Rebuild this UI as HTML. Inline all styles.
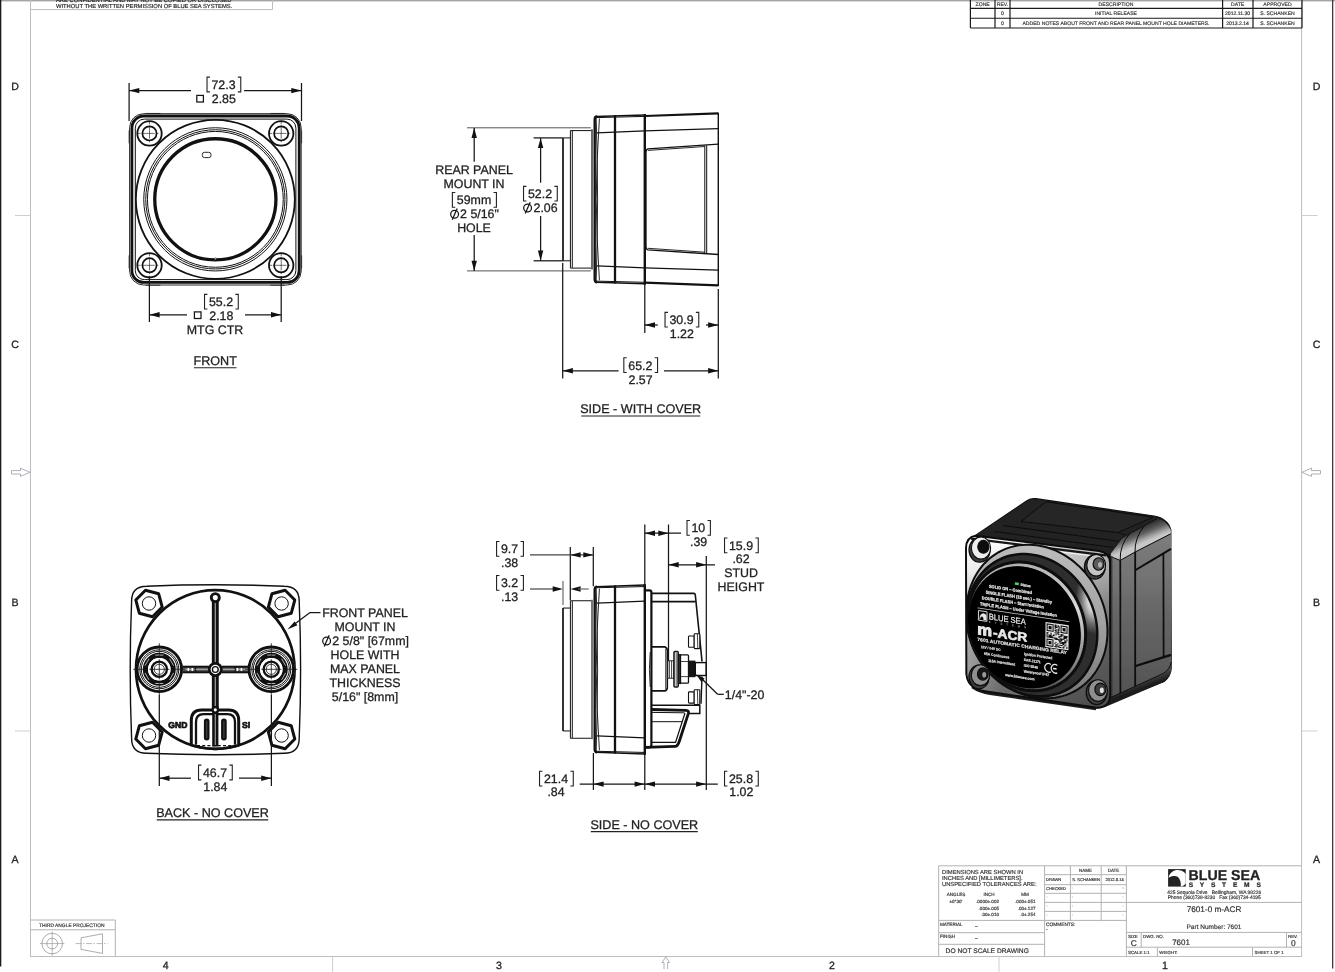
<!DOCTYPE html>
<html><head><meta charset="utf-8"><title>7601 m-ACR drawing</title>
<style>
html,body{margin:0;padding:0;background:#fff;}
body{width:1335px;height:972px;overflow:hidden;font-family:"Liberation Sans",sans-serif;}
svg{display:block;will-change:transform;font-family:"Liberation Sans",sans-serif;}
svg text{font-family:"Liberation Sans",sans-serif;text-rendering:geometricPrecision;}
</style></head><body>
<svg width="1335" height="972" viewBox="0 0 1335 972">
<!-- 10_frame.py -->
<defs><linearGradient id="tsh" x1="0" y1="0" x2="0" y2="1"><stop offset="0" stop-color="#8a8a8a"/><stop offset="1" stop-color="#ffffff"/></linearGradient></defs>
<rect x="0" y="0" width="1335" height="2.2" fill="url(#tsh)"/>
<rect x="0" y="0" width="1.3" height="966.5" rx="0" stroke="none" stroke-width="0" fill="#1a1a1a"/>
<rect x="1332" y="0" width="1.3" height="968.5" rx="0" stroke="none" stroke-width="0" fill="#3a3a3a"/>
<line x1="30.5" y1="0" x2="30.5" y2="956.5" stroke="#bdbdbd" stroke-width="1" />
<line x1="1301.6" y1="0" x2="1301.6" y2="956.5" stroke="#bdbdbd" stroke-width="1" />
<line x1="30" y1="956.5" x2="1302" y2="956.5" stroke="#bdbdbd" stroke-width="1" />
<line x1="15" y1="215.5" x2="30.5" y2="215.5" stroke="#cfcfcf" stroke-width="1" />
<line x1="1301.6" y1="215.5" x2="1317.5" y2="215.5" stroke="#cfcfcf" stroke-width="1" />
<line x1="15" y1="731" x2="30.5" y2="731" stroke="#cfcfcf" stroke-width="1" />
<line x1="1301.6" y1="731" x2="1317.5" y2="731" stroke="#cfcfcf" stroke-width="1" />
<line x1="332.6" y1="956.5" x2="332.6" y2="972" stroke="#cfcfcf" stroke-width="1" />
<line x1="999" y1="956.5" x2="999" y2="972" stroke="#cfcfcf" stroke-width="1" />
<text x="15" y="89.7" font-size="10.6" text-anchor="middle" fill="#222"  stroke="#222" stroke-width="0.28">D</text>
<text x="1316.6" y="89.7" font-size="10.6" text-anchor="middle" fill="#222"  stroke="#222" stroke-width="0.28">D</text>
<text x="15" y="348.2" font-size="10.6" text-anchor="middle" fill="#222"  stroke="#222" stroke-width="0.28">C</text>
<text x="1316.6" y="348.2" font-size="10.6" text-anchor="middle" fill="#222"  stroke="#222" stroke-width="0.28">C</text>
<text x="15" y="605.6" font-size="10.6" text-anchor="middle" fill="#222"  stroke="#222" stroke-width="0.28">B</text>
<text x="1316.6" y="605.6" font-size="10.6" text-anchor="middle" fill="#222"  stroke="#222" stroke-width="0.28">B</text>
<text x="15" y="862.5" font-size="10.6" text-anchor="middle" fill="#222"  stroke="#222" stroke-width="0.28">A</text>
<text x="1316.6" y="862.5" font-size="10.6" text-anchor="middle" fill="#222"  stroke="#222" stroke-width="0.28">A</text>
<text x="165.7" y="968.6" font-size="10.6" text-anchor="middle" fill="#222"  stroke="#222" stroke-width="0.28">4</text>
<text x="499" y="968.6" font-size="10.6" text-anchor="middle" fill="#222"  stroke="#222" stroke-width="0.28">3</text>
<text x="832" y="968.6" font-size="10.6" text-anchor="middle" fill="#222"  stroke="#222" stroke-width="0.28">2</text>
<text x="1165" y="968.6" font-size="10.6" text-anchor="middle" fill="#222"  stroke="#222" stroke-width="0.28">1</text>
<path d="M11.5 470.6H20.5V468.2L30 472.3L20.5 476.4V474H11.5Z" stroke="#9a9aa8" stroke-width="0.8" fill="none" />
<path d="M1320.5 470.6H1311.5V468.2L1302 472.3L1311.5 476.4V474H1320.5Z" stroke="#9a9aa8" stroke-width="0.8" fill="none" />
<path d="M664 969V962.5H662L665.8 956.8L669.6 962.5H667.6V969" stroke="#9a9aa8" stroke-width="0.8" fill="none" />
<line x1="30.5" y1="9.6" x2="272.5" y2="9.6" stroke="#bdbdbd" stroke-width="1" />
<line x1="272.5" y1="0" x2="272.5" y2="9.6" stroke="#bdbdbd" stroke-width="1" />
<text x="56" y="1.6" font-size="5.8" text-anchor="start" fill="#222"  stroke="#222" stroke-width="0.16">ARE CONFIDENTIAL AND MAY NOT BE COPIED OR DISCLOSED</text>
<text x="56" y="7.9" font-size="5.8" text-anchor="start" fill="#222"  stroke="#222" stroke-width="0.16">WITHOUT THE WRITTEN PERMISSION OF BLUE SEA SYSTEMS.</text>
<!-- 15_titleblock.py -->
<line x1="970.4" y1="8.4" x2="1302" y2="8.4" stroke="#1a1a1a" stroke-width="1.1" />
<line x1="970.4" y1="18.3" x2="1302" y2="18.3" stroke="#1a1a1a" stroke-width="1.1" />
<line x1="970.4" y1="28" x2="1302" y2="28" stroke="#1a1a1a" stroke-width="1.1" />
<line x1="970.4" y1="0" x2="970.4" y2="28" stroke="#1a1a1a" stroke-width="1.2" />
<line x1="995" y1="0" x2="995" y2="28" stroke="#1a1a1a" stroke-width="1.2" />
<line x1="1010" y1="0" x2="1010" y2="28" stroke="#1a1a1a" stroke-width="1.2" />
<line x1="1222.6" y1="0" x2="1222.6" y2="28" stroke="#1a1a1a" stroke-width="1.2" />
<line x1="1253" y1="0" x2="1253" y2="28" stroke="#1a1a1a" stroke-width="1.2" />
<line x1="1302" y1="0" x2="1302" y2="28" stroke="#1a1a1a" stroke-width="1.2" />
<text x="982.7" y="5.6" font-size="5.1" text-anchor="middle" fill="#333"  stroke="#333" stroke-width="0.16">ZONE</text>
<text x="1002.5" y="5.6" font-size="5.1" text-anchor="middle" fill="#333"  stroke="#333" stroke-width="0.16">REV.</text>
<text x="1116" y="5.6" font-size="5.1" text-anchor="middle" fill="#333"  stroke="#333" stroke-width="0.16">DESCRIPTION</text>
<text x="1237.6" y="5.6" font-size="5.1" text-anchor="middle" fill="#333"  stroke="#333" stroke-width="0.16">DATE</text>
<text x="1277.5" y="5.6" font-size="5.1" text-anchor="middle" fill="#333"  stroke="#333" stroke-width="0.16">APPROVED</text>
<text x="1002.5" y="15.2" font-size="5.1" text-anchor="middle" fill="#333"  stroke="#333" stroke-width="0.16">0</text>
<text x="1116" y="15.2" font-size="5.1" text-anchor="middle" fill="#333"  stroke="#333" stroke-width="0.16">INITIAL RELEASE</text>
<text x="1237.6" y="15.2" font-size="5.1" text-anchor="middle" fill="#333"  stroke="#333" stroke-width="0.16">2012.11.30</text>
<text x="1277.5" y="15.2" font-size="5.1" text-anchor="middle" fill="#333"  stroke="#333" stroke-width="0.16">S. SCHANKEN</text>
<text x="1002.5" y="25" font-size="5.1" text-anchor="middle" fill="#333"  stroke="#333" stroke-width="0.16">0</text>
<text x="1116" y="25" font-size="5.1" text-anchor="middle" fill="#333"  stroke="#333" stroke-width="0.16">ADDED NOTES ABOUT FRONT AND REAR PANEL MOUNT HOLE DIAMETERS.</text>
<text x="1237.6" y="25" font-size="5.1" text-anchor="middle" fill="#333"  stroke="#333" stroke-width="0.16">2013.2.14</text>
<text x="1277.5" y="25" font-size="5.1" text-anchor="middle" fill="#333"  stroke="#333" stroke-width="0.16">S. SCHANKEN</text>
<line x1="938.7" y1="865.8" x2="1301.6" y2="865.8" stroke="#b2b2b2" stroke-width="1" />
<line x1="938.7" y1="865.8" x2="938.7" y2="956.4" stroke="#b2b2b2" stroke-width="1" />
<line x1="1044.6" y1="865.8" x2="1044.6" y2="956.4" stroke="#b2b2b2" stroke-width="1" />
<line x1="1126.4" y1="865.8" x2="1126.4" y2="956.4" stroke="#b2b2b2" stroke-width="1" />
<line x1="1070.4" y1="865.8" x2="1070.4" y2="920.4" stroke="#b2b2b2" stroke-width="1" />
<line x1="1101.2" y1="865.8" x2="1101.2" y2="920.4" stroke="#b2b2b2" stroke-width="1" />
<line x1="1044.6" y1="874.7" x2="1126.4" y2="874.7" stroke="#b2b2b2" stroke-width="1" />
<line x1="1044.6" y1="884.7" x2="1126.4" y2="884.7" stroke="#b2b2b2" stroke-width="1" />
<line x1="1044.6" y1="893.3" x2="1126.4" y2="893.3" stroke="#b2b2b2" stroke-width="1" />
<line x1="1044.6" y1="902.4" x2="1126.4" y2="902.4" stroke="#b2b2b2" stroke-width="1" />
<line x1="1044.6" y1="911.4" x2="1126.4" y2="911.4" stroke="#b2b2b2" stroke-width="1" />
<line x1="938.7" y1="920.4" x2="1126.4" y2="920.4" stroke="#b2b2b2" stroke-width="1" />
<line x1="938.7" y1="932.7" x2="1044.6" y2="932.7" stroke="#b2b2b2" stroke-width="1" />
<line x1="938.7" y1="944.3" x2="1044.6" y2="944.3" stroke="#b2b2b2" stroke-width="1" />
<line x1="1126.4" y1="902.4" x2="1301.6" y2="902.4" stroke="#b2b2b2" stroke-width="1" />
<line x1="1126.4" y1="932.4" x2="1301.6" y2="932.4" stroke="#b2b2b2" stroke-width="1" />
<line x1="1126.4" y1="947.2" x2="1301.6" y2="947.2" stroke="#b2b2b2" stroke-width="1" />
<line x1="1141.2" y1="932.4" x2="1141.2" y2="947.2" stroke="#b2b2b2" stroke-width="1" />
<line x1="1286.5" y1="932.4" x2="1286.5" y2="947.2" stroke="#b2b2b2" stroke-width="1" />
<line x1="1157.4" y1="947.2" x2="1157.4" y2="956.4" stroke="#b2b2b2" stroke-width="1" />
<line x1="1252.5" y1="947.2" x2="1252.5" y2="956.4" stroke="#b2b2b2" stroke-width="1" />
<text x="942" y="873.6" font-size="5.8" text-anchor="start" fill="#333"  stroke="#333" stroke-width="0.16">DIMENSIONS ARE SHOWN IN</text>
<text x="942" y="879.6" font-size="5.8" text-anchor="start" fill="#333"  stroke="#333" stroke-width="0.16">INCHES AND [MILLIMETERS].</text>
<text x="942" y="885.6" font-size="5.8" text-anchor="start" fill="#333"  stroke="#333" stroke-width="0.16">UNSPECIFIED TOLERANCES ARE:</text>
<text x="956" y="895.6" font-size="4.6" text-anchor="middle" fill="#333"  stroke="#333" stroke-width="0.16">ANGLES</text>
<text x="989" y="895.6" font-size="4.6" text-anchor="middle" fill="#333"  stroke="#333" stroke-width="0.16">INCH</text>
<text x="1025" y="895.6" font-size="4.6" text-anchor="middle" fill="#333"  stroke="#333" stroke-width="0.16">MM</text>
<text x="956" y="902.6" font-size="4.6" text-anchor="middle" fill="#333"  stroke="#333" stroke-width="0.16">±0°30'</text>
<text x="999" y="902.6" font-size="4.6" text-anchor="end" fill="#333"  stroke="#333" stroke-width="0.16">.0000±.002</text>
<text x="999" y="909.6" font-size="4.6" text-anchor="end" fill="#333"  stroke="#333" stroke-width="0.16">.000±.005</text>
<text x="999" y="915.6" font-size="4.6" text-anchor="end" fill="#333"  stroke="#333" stroke-width="0.16">.00±.010</text>
<text x="1035.5" y="902.6" font-size="4.6" text-anchor="end" fill="#333"  stroke="#333" stroke-width="0.16">.000±.051</text>
<text x="1035.5" y="909.6" font-size="4.6" text-anchor="end" fill="#333"  stroke="#333" stroke-width="0.16">.00±.127</text>
<text x="1035.5" y="915.6" font-size="4.6" text-anchor="end" fill="#333"  stroke="#333" stroke-width="0.16">.0±.254</text>
<text x="940" y="926" font-size="4.6" text-anchor="start" fill="#333"  stroke="#333" stroke-width="0.16">MATERIAL</text>
<text x="975" y="926.1" font-size="4.6" text-anchor="start" fill="#333"  stroke="#333" stroke-width="0.16">_</text>
<text x="940" y="938" font-size="4.6" text-anchor="start" fill="#333"  stroke="#333" stroke-width="0.16">FINISH</text>
<text x="975" y="938.1" font-size="4.6" text-anchor="start" fill="#333"  stroke="#333" stroke-width="0.16">_</text>
<text x="945.6" y="952.7" font-size="6.66" text-anchor="start" fill="#333"  stroke="#333" stroke-width="0.2">DO NOT SCALE DRAWING</text>
<text x="1085.5" y="872.2" font-size="4.5" text-anchor="middle" fill="#333"  stroke="#333" stroke-width="0.16">NAME</text>
<text x="1113.5" y="872.2" font-size="4.5" text-anchor="middle" fill="#333"  stroke="#333" stroke-width="0.16">DATE</text>
<text x="1046" y="881.2" font-size="4.1" text-anchor="start" fill="#333"  stroke="#333" stroke-width="0.16">DRAWN</text>
<text x="1046" y="890.2" font-size="4.1" text-anchor="start" fill="#333"  stroke="#333" stroke-width="0.16">CHECKED</text>
<text x="1072.3" y="881.2" font-size="4.1" text-anchor="start" fill="#333"  stroke="#333" stroke-width="0.16">S. SCHANKEN</text>
<text x="1105.5" y="881.2" font-size="4.1" text-anchor="start" fill="#333"  stroke="#333" stroke-width="0.16">2012.8.14</text>
<text x="1072.5" y="888.8" font-size="4.1" text-anchor="middle" fill="#999"  stroke="#999" stroke-width="0.16">-</text>
<text x="1123" y="888.8" font-size="4.1" text-anchor="middle" fill="#999"  stroke="#999" stroke-width="0.16">-</text>
<text x="1072.5" y="897.8" font-size="4.1" text-anchor="middle" fill="#999"  stroke="#999" stroke-width="0.16">-</text>
<text x="1123" y="897.8" font-size="4.1" text-anchor="middle" fill="#999"  stroke="#999" stroke-width="0.16">-</text>
<text x="1072.5" y="906.8" font-size="4.1" text-anchor="middle" fill="#999"  stroke="#999" stroke-width="0.16">-</text>
<text x="1123" y="906.8" font-size="4.1" text-anchor="middle" fill="#999"  stroke="#999" stroke-width="0.16">-</text>
<text x="1072.5" y="915.8" font-size="4.1" text-anchor="middle" fill="#999"  stroke="#999" stroke-width="0.16">-</text>
<text x="1123" y="915.8" font-size="4.1" text-anchor="middle" fill="#999"  stroke="#999" stroke-width="0.16">-</text>
<text x="1047" y="897.8" font-size="4.1" text-anchor="middle" fill="#999"  stroke="#999" stroke-width="0.16">-</text>
<text x="1047" y="906.8" font-size="4.1" text-anchor="middle" fill="#999"  stroke="#999" stroke-width="0.16">-</text>
<text x="1047" y="915.8" font-size="4.1" text-anchor="middle" fill="#999"  stroke="#999" stroke-width="0.16">-</text>
<text x="1123" y="888.8" font-size="4.1" text-anchor="middle" fill="#999"  stroke="#999" stroke-width="0.16">-</text>
<text x="1046" y="926.2" font-size="4.8" text-anchor="start" fill="#333"  stroke="#333" stroke-width="0.16">COMMENTS:</text>
<text x="1046" y="931" font-size="4.8" text-anchor="start" fill="#333"  stroke="#333" stroke-width="0.16">-</text>
<text x="1214" y="912" font-size="8.2" text-anchor="middle" fill="#333"  stroke="#333" stroke-width="0.2">7601-0 m-ACR</text>
<text x="1214" y="929" font-size="6.5" text-anchor="middle" fill="#333"  stroke="#333" stroke-width="0.16">Part Number: 7601</text>
<text x="1128" y="938" font-size="4.4" text-anchor="start" fill="#333"  stroke="#333" stroke-width="0.16">SIZE</text>
<text x="1143" y="938" font-size="4.4" text-anchor="start" fill="#333"  stroke="#333" stroke-width="0.16">DWG. NO.</text>
<text x="1288" y="938" font-size="4.4" text-anchor="start" fill="#333"  stroke="#333" stroke-width="0.16">REV.</text>
<text x="1133.8" y="946" font-size="8.4" text-anchor="middle" fill="#333"  stroke="#333" stroke-width="0.2">C</text>
<text x="1181" y="945" font-size="7.95" text-anchor="middle" fill="#333"  stroke="#333" stroke-width="0.2">7601</text>
<text x="1293.3" y="946" font-size="8.4" text-anchor="middle" fill="#333"  stroke="#333" stroke-width="0.2">0</text>
<text x="1128" y="953.8" font-size="4.4" text-anchor="start" fill="#333"  stroke="#333" stroke-width="0.16">SCALE 1:1</text>
<text x="1159.3" y="953.8" font-size="4.4" text-anchor="start" fill="#333"  stroke="#333" stroke-width="0.16">WEIGHT:</text>
<text x="1254.5" y="953.8" font-size="4.4" text-anchor="start" fill="#333"  stroke="#333" stroke-width="0.16">SHEET 1 OF 1</text>
<g transform="translate(1168.1 869.1)">
<rect x="0" y="0" width="17.6" height="17.5" fill="#222"/>
<path d="M0.4 8.6 C1.6 3.4 5.8 0.9 9.8 1 C13.8 1.1 16.8 3.2 17.6 5.2 L17.6 14.2 C16.6 16 14.8 17.2 12.6 17.5 C13.2 14 12.2 10 9.6 7.6 C7 6.2 3 7 0.4 8.6Z" fill="#fff"/>
</g>
<text x="1188.6" y="879.7" font-size="14.3" text-anchor="start" fill="#222" font-weight="bold" textLength="71.6" lengthAdjust="spacingAndGlyphs" stroke="#222" stroke-width="0.28">BLUE SEA</text>
<text x="1188.8" y="886.6" font-size="6.6" text-anchor="start" fill="#222" font-weight="bold" textLength="72" lengthAdjust="spacing" stroke="#222" stroke-width="0.2">S Y S T E M S</text>
<text x="1167.2" y="894.2" font-size="5" text-anchor="start" fill="#333" textLength="94" lengthAdjust="spacingAndGlyphs" stroke="#333" stroke-width="0.16">425 Sequoia Drive   Bellingham, WA 98226</text>
<text x="1167.8" y="899" font-size="5" text-anchor="start" fill="#333" textLength="93" lengthAdjust="spacingAndGlyphs" stroke="#333" stroke-width="0.16">Phone (360)738-8230   Fax (360)734-4195</text>
<line x1="30.5" y1="920" x2="115.3" y2="920" stroke="#b2b2b2" stroke-width="1" />
<line x1="115.3" y1="920" x2="115.3" y2="956.5" stroke="#b2b2b2" stroke-width="1" />
<line x1="30.5" y1="929.8" x2="115.3" y2="929.8" stroke="#b2b2b2" stroke-width="1" />
<text x="71.8" y="926.9" font-size="4.9" text-anchor="middle" fill="#333"  stroke="#333" stroke-width="0.16">THIRD ANGLE PROJECTION</text>
<circle cx="52.2" cy="943.6" r="10.3" stroke="#8a8a8a" stroke-width="0.7" fill="none"/>
<circle cx="52.2" cy="943.6" r="5.4" stroke="#8a8a8a" stroke-width="0.7" fill="none"/>
<line x1="40" y1="943.6" x2="64.4" y2="943.6" stroke="#8a8a8a" stroke-width="0.6" />
<line x1="52.2" y1="931.5" x2="52.2" y2="955.7" stroke="#8a8a8a" stroke-width="0.6" />
<polygon points="81,937.8 102.5,933.8 102.5,953.4 81,949.4" stroke="#8a8a8a" stroke-width="0.7" fill="none" />
<line x1="75.5" y1="943.6" x2="107.5" y2="943.6" stroke="#8a8a8a" stroke-width="0.6" stroke-dasharray="6 1.5 1.5 1.5"/>
<!-- 20_front.py -->
<rect x="129.6" y="113.7" width="171.6" height="171.3" rx="14" stroke="#111" stroke-width="0.9" fill="none"/>
<rect x="131.9" y="116" width="167.3" height="166.4" rx="12" stroke="#111" stroke-width="2.8" fill="none"/>
<rect x="135.3" y="119.1" width="160.6" height="160.5" rx="9" stroke="#111" stroke-width="1" fill="none"/>
<line x1="160.35" y1="113.45" x2="145.85" y2="113.45" stroke="#111" stroke-width="0.7" />
<line x1="129.05" y1="143.35" x2="129.05" y2="130.35" stroke="#111" stroke-width="0.7" />
<line x1="160.35" y1="285.25" x2="145.85" y2="285.25" stroke="#111" stroke-width="0.7" />
<line x1="129.05" y1="255.35" x2="129.05" y2="268.35" stroke="#111" stroke-width="0.7" />
<line x1="270.35" y1="113.45" x2="284.85" y2="113.45" stroke="#111" stroke-width="0.7" />
<line x1="301.65" y1="143.35" x2="301.65" y2="130.35" stroke="#111" stroke-width="0.7" />
<line x1="270.35" y1="285.25" x2="284.85" y2="285.25" stroke="#111" stroke-width="0.7" />
<line x1="301.65" y1="255.35" x2="301.65" y2="268.35" stroke="#111" stroke-width="0.7" />
<circle cx="215.35" cy="199.35" r="79.5" stroke="#111" stroke-width="1.8" fill="none"/>
<circle cx="215.35" cy="199.35" r="71.6" stroke="#111" stroke-width="1" fill="none"/>
<circle cx="215.35" cy="199.35" r="69.6" stroke="#111" stroke-width="1" fill="none"/>
<circle cx="215.35" cy="199.35" r="67.9" stroke="#111" stroke-width="1" fill="none"/>
<circle cx="215.35" cy="199.35" r="60.6" stroke="#111" stroke-width="3.3" fill="none"/>
<circle cx="215.35" cy="258.75" r="0.9" stroke="#111" stroke-width="0.6" fill="#fff"/>
<rect x="202.3" y="152.3" width="8.7" height="5.3" rx="2.2" stroke="#111" stroke-width="0.9" fill="none"/>
<circle cx="149.5" cy="133.4" r="12.2" stroke="#111" stroke-width="1.8" fill="#fff"/>
<circle cx="149.5" cy="133.4" r="7.1" stroke="#111" stroke-width="1.7" fill="none"/>
<line x1="138" y1="133.4" x2="161" y2="133.4" stroke="#111" stroke-width="0.6" stroke-dasharray="2.5 1.2 5 0 8 1.2 2.5"/>
<line x1="149.5" y1="121.9" x2="149.5" y2="144.9" stroke="#111" stroke-width="0.6" stroke-dasharray="2.5 1.2 5 0 8 1.2 2.5"/>
<circle cx="149.5" cy="265.3" r="12.2" stroke="#111" stroke-width="1.8" fill="#fff"/>
<circle cx="149.5" cy="265.3" r="7.1" stroke="#111" stroke-width="1.7" fill="none"/>
<line x1="138" y1="265.3" x2="161" y2="265.3" stroke="#111" stroke-width="0.6" stroke-dasharray="2.5 1.2 5 0 8 1.2 2.5"/>
<line x1="149.5" y1="253.8" x2="149.5" y2="276.8" stroke="#111" stroke-width="0.6" stroke-dasharray="2.5 1.2 5 0 8 1.2 2.5"/>
<circle cx="281.2" cy="133.4" r="12.2" stroke="#111" stroke-width="1.8" fill="#fff"/>
<circle cx="281.2" cy="133.4" r="7.1" stroke="#111" stroke-width="1.7" fill="none"/>
<line x1="269.7" y1="133.4" x2="292.7" y2="133.4" stroke="#111" stroke-width="0.6" stroke-dasharray="2.5 1.2 5 0 8 1.2 2.5"/>
<line x1="281.2" y1="121.9" x2="281.2" y2="144.9" stroke="#111" stroke-width="0.6" stroke-dasharray="2.5 1.2 5 0 8 1.2 2.5"/>
<circle cx="281.2" cy="265.3" r="12.2" stroke="#111" stroke-width="1.8" fill="#fff"/>
<circle cx="281.2" cy="265.3" r="7.1" stroke="#111" stroke-width="1.7" fill="none"/>
<line x1="269.7" y1="265.3" x2="292.7" y2="265.3" stroke="#111" stroke-width="0.6" stroke-dasharray="2.5 1.2 5 0 8 1.2 2.5"/>
<line x1="281.2" y1="253.8" x2="281.2" y2="276.8" stroke="#111" stroke-width="0.6" stroke-dasharray="2.5 1.2 5 0 8 1.2 2.5"/>
<line x1="129.1" y1="83" x2="129.1" y2="121" stroke="#161616" stroke-width="1.25" />
<line x1="301.5" y1="83" x2="301.5" y2="121" stroke="#161616" stroke-width="1.25" />
<line x1="129.1" y1="90.6" x2="191" y2="90.6" stroke="#161616" stroke-width="1.25" />
<line x1="244.1" y1="90.6" x2="301.5" y2="90.6" stroke="#161616" stroke-width="1.25" />
<polygon points="129.1,90.6 139.3,87.9 139.3,93.3" fill="#111"/>
<polygon points="301.5,90.6 291.3,87.9 291.3,93.3" fill="#111"/>
<text x="223.5" y="89" font-size="12.4" text-anchor="middle" fill="#222"  stroke="#222" stroke-width="0.28">72.3</text>
<path d="M209.93 77.16H207.03V91.85H209.93" stroke="#222" stroke-width="1.1" fill="none" />
<path d="M237.87 77.16H240.77V91.85H237.87" stroke="#222" stroke-width="1.1" fill="none" />
<text x="223.8" y="103.2" font-size="12.4" text-anchor="middle" fill="#222"  stroke="#222" stroke-width="0.28">2.85</text>
<rect x="196.8" y="95.4" width="6.6" height="6.6" rx="0" stroke="#161616" stroke-width="1.25" fill="none"/>
<line x1="149.4" y1="276" x2="149.4" y2="322" stroke="#161616" stroke-width="1.25" />
<line x1="281.2" y1="276" x2="281.2" y2="322" stroke="#161616" stroke-width="1.25" />
<line x1="149.4" y1="314.8" x2="187" y2="314.8" stroke="#161616" stroke-width="1.25" />
<line x1="245" y1="314.8" x2="281.2" y2="314.8" stroke="#161616" stroke-width="1.25" />
<polygon points="149.4,314.8 159.6,312.1 159.6,317.5" fill="#111"/>
<polygon points="281.2,314.8 271,312.1 271,317.5" fill="#111"/>
<text x="221" y="306.2" font-size="12.4" text-anchor="middle" fill="#222"  stroke="#222" stroke-width="0.28">55.2</text>
<path d="M207.43 294.36H204.53V309.05H207.43" stroke="#222" stroke-width="1.1" fill="none" />
<path d="M235.37 294.36H238.27V309.05H235.37" stroke="#222" stroke-width="1.1" fill="none" />
<text x="221.3" y="319.8" font-size="12.4" text-anchor="middle" fill="#222"  stroke="#222" stroke-width="0.28">2.18</text>
<rect x="194.4" y="311.9" width="6.6" height="6.6" rx="0" stroke="#161616" stroke-width="1.25" fill="none"/>
<text x="215" y="333.6" font-size="12.4" text-anchor="middle" fill="#222"  stroke="#222" stroke-width="0.28">MTG CTR</text>
<text x="215.2" y="365" font-size="12.6" text-anchor="middle" fill="#222"  stroke="#222" stroke-width="0.28">FRONT</text><line x1="193.95" y1="367.7" x2="236.45" y2="367.7" stroke="#222" stroke-width="1.1" />
<!-- 30_sidecover.py -->
<line x1="563" y1="137.9" x2="570.4" y2="137.9" stroke="#111" stroke-width="1" />
<path d="M570.4 199 V130.6 H591.5" stroke="#111" stroke-width="1" fill="none" />
<line x1="572.3" y1="131" x2="572.3" y2="199" stroke="#111" stroke-width="1" />
<line x1="467" y1="127.8" x2="590.8" y2="127.8" stroke="#555" stroke-width="1" />
<line x1="592" y1="129.3" x2="592" y2="199" stroke="#444" stroke-width="1.6" />
<path d="M594.7 199 V119.5 Q594.7 116.6 597 116.5" stroke="#111" stroke-width="2.4" fill="none" />
<path d="M596 116.5 L644.8 114.9" stroke="#111" stroke-width="1.5" fill="none" />
<path d="M599.4 118.5 Q596.6 160 596.2 199" stroke="#111" stroke-width="0.9" fill="none" />
<path d="M596.2 118 Q597.4 160 597.6 199" stroke="#111" stroke-width="0.9" fill="none" />
<line x1="596" y1="117.6" x2="644.8" y2="116.4" stroke="#111" stroke-width="1" />
<line x1="597" y1="132.9" x2="644.8" y2="130.9" stroke="#111" stroke-width="1.2" />
<line x1="644.8" y1="116" x2="718.3" y2="113.4" stroke="#111" stroke-width="2.2" />
<line x1="644.8" y1="130.9" x2="718.3" y2="128.6" stroke="#111" stroke-width="1.2" />
<path d="M646 199 V152.5 Q646 149.3 648 148.9 L718.3 144.2" stroke="#111" stroke-width="1.3" fill="none" />
<line x1="648" y1="150.4" x2="704.8" y2="146.5" stroke="#111" stroke-width="0.9" />
<line x1="704.8" y1="145.6" x2="704.8" y2="199" stroke="#111" stroke-width="1" />
<line x1="706.7" y1="145.4" x2="706.7" y2="199" stroke="#111" stroke-width="1" />
<line x1="563" y1="260.8" x2="570.4" y2="260.8" stroke="#111" stroke-width="1" />
<path d="M570.4 199 V268.1 H591.5" stroke="#111" stroke-width="1" fill="none" />
<line x1="572.3" y1="267.7" x2="572.3" y2="199" stroke="#111" stroke-width="1" />
<line x1="467" y1="270.9" x2="590.8" y2="270.9" stroke="#555" stroke-width="1" />
<line x1="592" y1="269.4" x2="592" y2="199" stroke="#444" stroke-width="1.6" />
<path d="M594.7 199 V279.2 Q594.7 282.1 597 282.2" stroke="#111" stroke-width="2.4" fill="none" />
<path d="M596 282.2 L644.8 283.8" stroke="#111" stroke-width="1.5" fill="none" />
<path d="M599.4 280.2 Q596.6 238.7 596.2 199" stroke="#111" stroke-width="0.9" fill="none" />
<path d="M596.2 280.7 Q597.4 238.7 597.6 199" stroke="#111" stroke-width="0.9" fill="none" />
<line x1="596" y1="281.1" x2="644.8" y2="282.3" stroke="#111" stroke-width="1" />
<line x1="597" y1="265.8" x2="644.8" y2="267.8" stroke="#111" stroke-width="1.2" />
<line x1="644.8" y1="282.7" x2="718.3" y2="285.3" stroke="#111" stroke-width="2.2" />
<line x1="644.8" y1="267.8" x2="718.3" y2="270.1" stroke="#111" stroke-width="1.2" />
<path d="M646 199 V246.2 Q646 249.4 648 249.8 L718.3 254.5" stroke="#111" stroke-width="1.3" fill="none" />
<line x1="648" y1="248.3" x2="704.8" y2="252.2" stroke="#111" stroke-width="0.9" />
<line x1="704.8" y1="253.1" x2="704.8" y2="199" stroke="#111" stroke-width="1" />
<line x1="706.7" y1="253.3" x2="706.7" y2="199" stroke="#111" stroke-width="1" />
<line x1="563" y1="137.9" x2="563" y2="260.8" stroke="#111" stroke-width="1.7" />
<line x1="615" y1="115.3" x2="615" y2="283.4" stroke="#111" stroke-width="2.3" />
<line x1="644.8" y1="114" x2="644.8" y2="284.7" stroke="#111" stroke-width="2.4" />
<line x1="718.3" y1="112.8" x2="718.3" y2="285.9" stroke="#111" stroke-width="1.4" />
<line x1="474.2" y1="128" x2="474.2" y2="161.7" stroke="#161616" stroke-width="1.25" />
<line x1="474.2" y1="235" x2="474.2" y2="271" stroke="#161616" stroke-width="1.25" />
<polygon points="474.2,127.8 471.5,138 476.9,138" fill="#111"/>
<polygon points="474.2,270.9 471.5,260.7 476.9,260.7" fill="#111"/>
<text x="474" y="174.4" font-size="12.4" text-anchor="middle" fill="#222"  stroke="#222" stroke-width="0.28">REAR PANEL</text>
<text x="474" y="188.4" font-size="12.4" text-anchor="middle" fill="#222"  stroke="#222" stroke-width="0.28">MOUNT IN</text>
<text x="474" y="232.4" font-size="12.4" text-anchor="middle" fill="#222"  stroke="#222" stroke-width="0.28">HOLE</text>
<text x="474" y="204.4" font-size="12.4" text-anchor="middle" fill="#222"  stroke="#222" stroke-width="0.28">59mm</text>
<path d="M455.28 192.56H452.38V207.25H455.28" stroke="#222" stroke-width="1.1" fill="none" />
<path d="M493.52 192.56H496.42V207.25H493.52" stroke="#222" stroke-width="1.1" fill="none" />
<text x="479.5" y="218.4" font-size="12.4" text-anchor="middle" fill="#222"  stroke="#222" stroke-width="0.28">2 5/16"</text>
<circle cx="454.6" cy="214.2" r="3.9" stroke="#161616" stroke-width="1.25" fill="none"/>
<line x1="452.2" y1="219.8" x2="457.2" y2="208.4" stroke="#161616" stroke-width="1.25" />
<line x1="533.6" y1="137.9" x2="563" y2="137.9" stroke="#161616" stroke-width="1.25" />
<line x1="533.6" y1="260.8" x2="563" y2="260.8" stroke="#161616" stroke-width="1.25" />
<line x1="540.6" y1="138" x2="540.6" y2="182.7" stroke="#161616" stroke-width="1.25" />
<line x1="540.6" y1="216" x2="540.6" y2="260.7" stroke="#161616" stroke-width="1.25" />
<polygon points="540.6,137.9 537.9,148.1 543.3,148.1" fill="#111"/>
<polygon points="540.6,260.8 537.9,250.6 543.3,250.6" fill="#111"/>
<text x="540" y="198.2" font-size="12.4" text-anchor="middle" fill="#222"  stroke="#222" stroke-width="0.28">52.2</text>
<path d="M526.43 186.36H523.53V201.05H526.43" stroke="#222" stroke-width="1.1" fill="none" />
<path d="M554.37 186.36H557.27V201.05H554.37" stroke="#222" stroke-width="1.1" fill="none" />
<text x="545.6" y="212.2" font-size="12.4" text-anchor="middle" fill="#222"  stroke="#222" stroke-width="0.28">2.06</text>
<circle cx="527.6" cy="208" r="3.9" stroke="#161616" stroke-width="1.25" fill="none"/>
<line x1="525.2" y1="213.6" x2="530.2" y2="202.2" stroke="#161616" stroke-width="1.25" />
<line x1="644.8" y1="284" x2="644.8" y2="333" stroke="#161616" stroke-width="1.25" />
<line x1="718.3" y1="289" x2="718.3" y2="378.5" stroke="#161616" stroke-width="1.25" />
<line x1="644.8" y1="325" x2="657.8" y2="325" stroke="#161616" stroke-width="1.25" />
<line x1="706" y1="325" x2="718.3" y2="325" stroke="#161616" stroke-width="1.25" />
<polygon points="644.8,325 655,322.3 655,327.7" fill="#111"/>
<polygon points="718.3,325 708.1,322.3 708.1,327.7" fill="#111"/>
<text x="681.5" y="324.2" font-size="12.4" text-anchor="middle" fill="#222"  stroke="#222" stroke-width="0.28">30.9</text>
<path d="M667.93 312.36H665.03V327.05H667.93" stroke="#222" stroke-width="1.1" fill="none" />
<path d="M695.87 312.36H698.77V327.05H695.87" stroke="#222" stroke-width="1.1" fill="none" />
<text x="681.8" y="338.2" font-size="12.4" text-anchor="middle" fill="#222"  stroke="#222" stroke-width="0.28">1.22</text>
<line x1="562.7" y1="263" x2="562.7" y2="378.5" stroke="#161616" stroke-width="1.25" />
<line x1="562.7" y1="370.8" x2="618.6" y2="370.8" stroke="#161616" stroke-width="1.25" />
<line x1="664" y1="370.8" x2="718.3" y2="370.8" stroke="#161616" stroke-width="1.25" />
<polygon points="562.7,370.8 572.9,368.1 572.9,373.5" fill="#111"/>
<polygon points="718.3,370.8 708.1,368.1 708.1,373.5" fill="#111"/>
<text x="640.3" y="369.6" font-size="12.4" text-anchor="middle" fill="#222"  stroke="#222" stroke-width="0.28">65.2</text>
<path d="M626.73 357.76H623.83V372.45H626.73" stroke="#222" stroke-width="1.1" fill="none" />
<path d="M654.67 357.76H657.57V372.45H654.67" stroke="#222" stroke-width="1.1" fill="none" />
<text x="640.6" y="383.6" font-size="12.4" text-anchor="middle" fill="#222"  stroke="#222" stroke-width="0.28">2.57</text>
<text x="640.7" y="413.3" font-size="12.6" text-anchor="middle" fill="#222"  stroke="#222" stroke-width="0.28">SIDE - WITH COVER</text><line x1="581.2" y1="416" x2="700.2" y2="416" stroke="#222" stroke-width="1.1" />
<!-- 40_back.py -->
<path d="M146.6 586.2 Q215.4 583.4 284.2 586.2 Q299.2 586.2 299.2 601.2 Q302 669.75 299.2 738.3 Q299.2 753.3 284.2 753.3 Q215.4 756.1 146.6 753.3 Q131.6 753.3 131.6 738.3 Q128.8 669.75 131.6 601.2 Q131.6 586.2 146.6 586.2Z" stroke="#111" stroke-width="1.4" fill="none" />
<polygon points="162.23,607.05 152.55,616.73 139.31,613.19 135.77,599.95 145.45,590.27 158.69,593.81" stroke="#111" stroke-width="3" fill="#fff" stroke-linejoin="round"/>
<circle cx="149" cy="603.5" r="6.7" stroke="#111" stroke-width="1" fill="none"/>
<polygon points="162.23,731.95 158.69,745.19 145.45,748.73 135.77,739.05 139.31,725.81 152.55,722.27" stroke="#111" stroke-width="3" fill="#fff" stroke-linejoin="round"/>
<circle cx="149" cy="735.5" r="6.7" stroke="#111" stroke-width="1" fill="none"/>
<polygon points="294.83,599.95 291.29,613.19 278.05,616.73 268.37,607.05 271.91,593.81 285.15,590.27" stroke="#111" stroke-width="3" fill="#fff" stroke-linejoin="round"/>
<circle cx="281.6" cy="603.5" r="6.7" stroke="#111" stroke-width="1" fill="none"/>
<polygon points="294.83,739.05 285.15,748.73 271.91,745.19 268.37,731.95 278.05,722.27 291.29,725.81" stroke="#111" stroke-width="3" fill="#fff" stroke-linejoin="round"/>
<circle cx="281.6" cy="735.5" r="6.7" stroke="#111" stroke-width="1" fill="none"/>
<circle cx="215.3" cy="669.5" r="79.3" stroke="#111" stroke-width="2.7" fill="none"/>
<line x1="215.3" y1="597" x2="215.3" y2="708" stroke="#111" stroke-width="6.9" />
<line x1="215.3" y1="602" x2="215.3" y2="706" stroke="#9a9a9a" stroke-width="1.3" />
<line x1="181" y1="666.8" x2="209" y2="666.8" stroke="#111" stroke-width="2.2" />
<line x1="221.6" y1="666.8" x2="249.6" y2="666.8" stroke="#111" stroke-width="2.2" />
<line x1="181" y1="672.2" x2="209" y2="672.2" stroke="#111" stroke-width="2.2" />
<line x1="221.6" y1="672.2" x2="249.6" y2="672.2" stroke="#111" stroke-width="2.2" />
<line x1="183" y1="668.8" x2="196" y2="668.8" stroke="#111" stroke-width="0.9" stroke-dasharray="4.5 1.6 2.4 1.6 2 0"/>
<line x1="196" y1="668.8" x2="209" y2="668.8" stroke="#111" stroke-width="0.9" />
<line x1="221.6" y1="668.8" x2="234.6" y2="668.8" stroke="#111" stroke-width="0.9" />
<line x1="234.6" y1="668.8" x2="247.6" y2="668.8" stroke="#111" stroke-width="0.9" stroke-dasharray="2 1.6 2.4 1.6 4.5 0"/>
<line x1="183" y1="670.3" x2="196" y2="670.3" stroke="#111" stroke-width="0.9" stroke-dasharray="4.5 1.6 2.4 1.6 2 0"/>
<line x1="196" y1="670.3" x2="209" y2="670.3" stroke="#111" stroke-width="0.9" />
<line x1="221.6" y1="670.3" x2="234.6" y2="670.3" stroke="#111" stroke-width="0.9" />
<line x1="234.6" y1="670.3" x2="247.6" y2="670.3" stroke="#111" stroke-width="0.9" stroke-dasharray="2 1.6 2.4 1.6 4.5 0"/>
<path d="M196.4 667 Q194 669.5 196.4 672" stroke="#111" stroke-width="1.1" fill="none" />
<path d="M234.2 667 Q236.6 669.5 234.2 672" stroke="#111" stroke-width="1.1" fill="none" />
<circle cx="215.3" cy="597.6" r="4" stroke="#111" stroke-width="2.9" fill="#fff"/>
<circle cx="215.3" cy="669.5" r="7.4" stroke="none" stroke-width="0" fill="#111"/>
<circle cx="215.3" cy="669.5" r="4.7" stroke="none" stroke-width="0" fill="#fff"/>
<circle cx="215.3" cy="669.5" r="2.9" stroke="#111" stroke-width="1.4" fill="#fff"/>
<circle cx="159.3" cy="669.3" r="23.4" stroke="none" stroke-width="0" fill="#fff"/>
<circle cx="159.3" cy="669.3" r="22.3" stroke="#111" stroke-width="2.9" fill="#fff"/>
<circle cx="159.3" cy="669.3" r="19.5" stroke="#111" stroke-width="1" fill="none"/>
<circle cx="159.3" cy="669.3" r="18" stroke="#111" stroke-width="1" fill="none"/>
<circle cx="159.3" cy="669.3" r="13.9" stroke="#111" stroke-width="5.2" fill="none"/>
<line x1="173.6" y1="672.94" x2="169.6" y2="679.86" stroke="#ddd" stroke-width="0.8" />
<line x1="163.3" y1="683.5" x2="155.3" y2="683.5" stroke="#ddd" stroke-width="0.8" />
<line x1="149" y1="679.86" x2="145" y2="672.94" stroke="#ddd" stroke-width="0.8" />
<line x1="145" y1="665.66" x2="149" y2="658.74" stroke="#ddd" stroke-width="0.8" />
<line x1="155.3" y1="655.1" x2="163.3" y2="655.1" stroke="#ddd" stroke-width="0.8" />
<line x1="169.6" y1="658.74" x2="173.6" y2="665.66" stroke="#ddd" stroke-width="0.8" />
<circle cx="159.3" cy="669.3" r="11.2" stroke="none" stroke-width="0" fill="#fff"/>
<circle cx="159.3" cy="669.3" r="7.6" stroke="#111" stroke-width="2.3" fill="#fff"/>
<circle cx="159.3" cy="669.3" r="5.1" stroke="#111" stroke-width="0.8" fill="none"/>
<line x1="133.3" y1="669.3" x2="185.3" y2="669.3" stroke="#111" stroke-width="0.8" stroke-dasharray="10 1.5 3 1.5 20 1.5 3 1.5 10"/>
<line x1="159.3" y1="643.3" x2="159.3" y2="695.3" stroke="#111" stroke-width="0.8" stroke-dasharray="10 1.5 3 1.5 20 1.5 3 1.5 10"/>
<circle cx="271.3" cy="669.3" r="23.4" stroke="none" stroke-width="0" fill="#fff"/>
<circle cx="271.3" cy="669.3" r="22.3" stroke="#111" stroke-width="2.9" fill="#fff"/>
<circle cx="271.3" cy="669.3" r="19.5" stroke="#111" stroke-width="1" fill="none"/>
<circle cx="271.3" cy="669.3" r="18" stroke="#111" stroke-width="1" fill="none"/>
<circle cx="271.3" cy="669.3" r="13.9" stroke="#111" stroke-width="5.2" fill="none"/>
<line x1="285.6" y1="672.94" x2="281.6" y2="679.86" stroke="#ddd" stroke-width="0.8" />
<line x1="275.3" y1="683.5" x2="267.3" y2="683.5" stroke="#ddd" stroke-width="0.8" />
<line x1="261" y1="679.86" x2="257" y2="672.94" stroke="#ddd" stroke-width="0.8" />
<line x1="257" y1="665.66" x2="261" y2="658.74" stroke="#ddd" stroke-width="0.8" />
<line x1="267.3" y1="655.1" x2="275.3" y2="655.1" stroke="#ddd" stroke-width="0.8" />
<line x1="281.6" y1="658.74" x2="285.6" y2="665.66" stroke="#ddd" stroke-width="0.8" />
<circle cx="271.3" cy="669.3" r="11.2" stroke="none" stroke-width="0" fill="#fff"/>
<circle cx="271.3" cy="669.3" r="7.6" stroke="#111" stroke-width="2.3" fill="#fff"/>
<circle cx="271.3" cy="669.3" r="5.1" stroke="#111" stroke-width="0.8" fill="none"/>
<line x1="245.3" y1="669.3" x2="297.3" y2="669.3" stroke="#111" stroke-width="0.8" stroke-dasharray="10 1.5 3 1.5 20 1.5 3 1.5 10"/>
<line x1="271.3" y1="643.3" x2="271.3" y2="695.3" stroke="#111" stroke-width="0.8" stroke-dasharray="10 1.5 3 1.5 20 1.5 3 1.5 10"/>
<path d="M191.3 744.5 V720.5 Q191.3 710 201.5 710 H228.6 Q238.7 710 238.7 720.5 V744.5" stroke="#111" stroke-width="3" fill="#fff" />
<path d="M196 744.8 V722 Q196 714.2 203.5 714.2 H227.5 Q235 714.2 235 722 V744.8" stroke="#111" stroke-width="2.3" fill="none" />
<line x1="215.3" y1="706" x2="215.3" y2="746.5" stroke="#111" stroke-width="6.2" />
<line x1="215.3" y1="714" x2="215.3" y2="745" stroke="#9a9a9a" stroke-width="1.2" />
<circle cx="215.3" cy="709.8" r="2.7" stroke="#111" stroke-width="2.2" fill="#fff"/>
<rect x="205" y="719.6" width="3.4" height="19.8" rx="1.7" stroke="#111" stroke-width="2.2" fill="#444"/>
<rect x="222.2" y="719.6" width="3.4" height="19.8" rx="1.7" stroke="#111" stroke-width="2.2" fill="#444"/>
<line x1="197" y1="745.6" x2="234" y2="745.6" stroke="#111" stroke-width="1.4" stroke-dasharray="3 2.2"/>
<path d="M190 744.7 A79.3 79.3 0 0 0 240.6 744.7" stroke="#111" stroke-width="2.4" fill="none" />
<text x="177.9" y="728.3" font-size="8.6" text-anchor="middle" fill="#111" font-weight="bold" stroke="#111" stroke-width="0.7">GND</text>
<text x="246" y="728.3" font-size="8.6" text-anchor="middle" fill="#111" font-weight="bold" stroke="#111" stroke-width="0.7">SI</text>
<line x1="159.3" y1="695" x2="159.3" y2="786" stroke="#161616" stroke-width="1.25" />
<line x1="271.4" y1="695" x2="271.4" y2="786" stroke="#161616" stroke-width="1.25" />
<line x1="159.3" y1="778.2" x2="191" y2="778.2" stroke="#161616" stroke-width="1.25" />
<line x1="239" y1="778.2" x2="271.4" y2="778.2" stroke="#161616" stroke-width="1.25" />
<polygon points="159.3,778.2 169.5,775.5 169.5,780.9" fill="#111"/>
<polygon points="271.4,778.2 261.2,775.5 261.2,780.9" fill="#111"/>
<text x="215" y="777" font-size="12.4" text-anchor="middle" fill="#222"  stroke="#222" stroke-width="0.28">46.7</text>
<path d="M201.43 765.16H198.53V779.85H201.43" stroke="#222" stroke-width="1.1" fill="none" />
<path d="M229.37 765.16H232.27V779.85H229.37" stroke="#222" stroke-width="1.1" fill="none" />
<text x="215.3" y="791" font-size="12.4" text-anchor="middle" fill="#222"  stroke="#222" stroke-width="0.28">1.84</text>
<text x="212.5" y="817.2" font-size="12.6" text-anchor="middle" fill="#222"  stroke="#222" stroke-width="0.28">BACK - NO COVER</text><line x1="156.75" y1="819.9" x2="268.25" y2="819.9" stroke="#222" stroke-width="1.1" />
<text x="365" y="617.1" font-size="12.4" text-anchor="middle" fill="#222"  stroke="#222" stroke-width="0.28">FRONT PANEL</text>
<text x="365" y="631.15" font-size="12.4" text-anchor="middle" fill="#222"  stroke="#222" stroke-width="0.28">MOUNT IN</text>
<text x="365" y="659.25" font-size="12.4" text-anchor="middle" fill="#222"  stroke="#222" stroke-width="0.28">HOLE WITH</text>
<text x="365" y="673.3" font-size="12.4" text-anchor="middle" fill="#222"  stroke="#222" stroke-width="0.28">MAX PANEL</text>
<text x="365" y="687.35" font-size="12.4" text-anchor="middle" fill="#222"  stroke="#222" stroke-width="0.28">THICKNESS</text>
<text x="365" y="701.4" font-size="12.4" text-anchor="middle" fill="#222"  stroke="#222" stroke-width="0.28">5/16" [8mm]</text>
<text x="370.6" y="645.2" font-size="12.4" text-anchor="middle" fill="#222"  stroke="#222" stroke-width="0.28">2 5/8" [67mm]</text>
<circle cx="326.6" cy="641" r="3.9" stroke="#161616" stroke-width="1.25" fill="none"/>
<line x1="324.2" y1="646.6" x2="329.2" y2="635.2" stroke="#161616" stroke-width="1.25" />
<line x1="310" y1="612.6" x2="320.5" y2="612.6" stroke="#161616" stroke-width="1.25" />
<line x1="310" y1="612.6" x2="294" y2="624.5" stroke="#161616" stroke-width="1.25" />
<polygon points="287.4,629.4 294.6,621.6 297.4,625.3" fill="#111"/>
<!-- 50_sidenocover.py -->
<line x1="563" y1="608.05" x2="570.4" y2="608.05" stroke="#111" stroke-width="1" />
<path d="M570.4 670 V600.75 H591.5" stroke="#111" stroke-width="1" fill="none" />
<line x1="572.3" y1="601.15" x2="572.3" y2="670" stroke="#111" stroke-width="1" />
<line x1="592" y1="599.75" x2="592" y2="670" stroke="#555" stroke-width="1.6" />
<path d="M594.7 670 V589.65 Q594.7 586.75 597 586.65" stroke="#111" stroke-width="2.4" fill="none" />
<path d="M596 586.65 L644.8 585.05" stroke="#111" stroke-width="1.5" fill="none" />
<path d="M599.4 588.65 Q596.6 630.15 596.2 670" stroke="#111" stroke-width="0.9" fill="none" />
<path d="M596.2 588.15 Q597.4 630.15 597.6 670" stroke="#111" stroke-width="0.9" fill="none" />
<line x1="596" y1="587.75" x2="644.8" y2="586.55" stroke="#111" stroke-width="1" />
<line x1="597" y1="603.05" x2="644.8" y2="601.05" stroke="#111" stroke-width="1.2" />
<line x1="563" y1="730.95" x2="570.4" y2="730.95" stroke="#111" stroke-width="1" />
<path d="M570.4 670 V738.25 H591.5" stroke="#111" stroke-width="1" fill="none" />
<line x1="572.3" y1="737.85" x2="572.3" y2="670" stroke="#111" stroke-width="1" />
<line x1="592" y1="739.25" x2="592" y2="670" stroke="#555" stroke-width="1.6" />
<path d="M594.7 670 V749.35 Q594.7 752.25 597 752.35" stroke="#111" stroke-width="2.4" fill="none" />
<path d="M596 752.35 L644.8 753.95" stroke="#111" stroke-width="1.5" fill="none" />
<path d="M599.4 750.35 Q596.6 708.85 596.2 670" stroke="#111" stroke-width="0.9" fill="none" />
<path d="M596.2 750.85 Q597.4 708.85 597.6 670" stroke="#111" stroke-width="0.9" fill="none" />
<line x1="596" y1="751.25" x2="644.8" y2="752.45" stroke="#111" stroke-width="1" />
<line x1="597" y1="735.95" x2="644.8" y2="737.95" stroke="#111" stroke-width="1.2" />
<line x1="563" y1="608.05" x2="563" y2="730.95" stroke="#111" stroke-width="1.7" />
<line x1="615" y1="585.45" x2="615" y2="753.55" stroke="#111" stroke-width="2.3" />
<line x1="644.8" y1="584.15" x2="644.8" y2="754.85" stroke="#111" stroke-width="2.4" />
<path d="M644.8 590.4 H649.5 Q651.4 590.4 651.4 592.5 V745 Q651.4 747.3 649 747.3 H644.8" stroke="#111" stroke-width="2.2" fill="none" />
<path d="M650.2 652 Q648.6 669.5 650.2 687" stroke="#111" stroke-width="0.9" fill="none" />
<path d="M651.4 593.4 H693.8 Q695 593.4 695.3 595 L700.9 650 L702 661.5" stroke="#111" stroke-width="1.6" fill="none" />
<line x1="651.4" y1="601.6" x2="695.4" y2="601.6" stroke="#111" stroke-width="1.6" />
<path d="M702 676.5 L701 703.7" stroke="#111" stroke-width="1.4" fill="none" />
<path d="M651.4 705.3 H699.8 V713.5 H688.5" stroke="#111" stroke-width="1.5" fill="none" />
<rect x="688.5" y="636" width="5.7" height="11.2" rx="0.8" stroke="#111" stroke-width="1.1" fill="#fff"/>
<rect x="694.2" y="633.8" width="5.6" height="14.8" rx="0.8" stroke="#111" stroke-width="1.1" fill="#fff"/>
<line x1="697.4" y1="634" x2="697.8" y2="648.4" stroke="#111" stroke-width="0.8" />
<rect x="688.5" y="691.9" width="5.7" height="11.2" rx="0.8" stroke="#111" stroke-width="1.1" fill="#fff"/>
<rect x="694.2" y="689.7" width="5.6" height="14.8" rx="0.8" stroke="#111" stroke-width="1.1" fill="#fff"/>
<line x1="697.4" y1="689.9" x2="697.8" y2="704.3" stroke="#111" stroke-width="0.8" />
<path d="M651.4 646.9 H664.6 Q666.8 647.2 667.3 650 V688 Q666.8 690.6 664.6 690.9 H651.4" stroke="#111" stroke-width="1.6" fill="none" />
<line x1="665.6" y1="648.5" x2="665.6" y2="689.5" stroke="#666" stroke-width="1.2" />
<rect x="667.8" y="660.8" width="6" height="17.4" rx="0" stroke="#111" stroke-width="0.9" fill="#fff"/>
<line x1="669.4" y1="661" x2="669.4" y2="678" stroke="#111" stroke-width="0.8" />
<line x1="671.6" y1="661" x2="671.6" y2="678" stroke="#111" stroke-width="0.8" />
<rect x="674" y="651.5" width="4.2" height="35.4" rx="1" stroke="#111" stroke-width="1.5" fill="#fff"/>
<line x1="676.2" y1="652.5" x2="676.2" y2="686" stroke="#111" stroke-width="0.7" />
<rect x="678.2" y="654.6" width="2.4" height="29" rx="0" stroke="#111" stroke-width="1" fill="#333"/>
<rect x="680.5" y="654.8" width="8" height="28.4" rx="1" stroke="#111" stroke-width="1.3" fill="#fff"/>
<line x1="680.5" y1="661.5" x2="688.5" y2="661.5" stroke="#111" stroke-width="0.8" />
<line x1="680.5" y1="676.6" x2="688.5" y2="676.6" stroke="#111" stroke-width="0.8" />
<rect x="688.5" y="660.6" width="6.9" height="16.6" rx="0" stroke="none" stroke-width="0" fill="#161616"/>
<rect x="695.3" y="662.6" width="10.9" height="12.9" rx="0" stroke="#111" stroke-width="1.4" fill="#fff"/>
<path d="M651.4 709.5 L686 710.3 Q689.2 710.4 688.4 713.4 L679.4 741 Q677.8 746.3 675 746.4 L644.8 747.4" stroke="#111" stroke-width="2.8" fill="none" stroke-linejoin="round"/>
<path d="M651.8 712.4 L684.5 712.8" stroke="#111" stroke-width="1" fill="none" />
<line x1="651.8" y1="721.7" x2="682.4" y2="721.7" stroke="#111" stroke-width="1" />
<path d="M651.8 742.3 H675.6 L685 713" stroke="#111" stroke-width="1.2" fill="none" />
<line x1="570.3" y1="547" x2="570.3" y2="600.2" stroke="#161616" stroke-width="1.25" />
<line x1="593.3" y1="547" x2="593.3" y2="586.3" stroke="#161616" stroke-width="1.25" />
<line x1="593.4" y1="753" x2="593.4" y2="790" stroke="#161616" stroke-width="1.25" />
<line x1="644.8" y1="524.5" x2="644.8" y2="586" stroke="#161616" stroke-width="1.25" />
<line x1="644.8" y1="753" x2="644.8" y2="790" stroke="#161616" stroke-width="1.25" />
<line x1="668.5" y1="524.5" x2="668.5" y2="661" stroke="#161616" stroke-width="1.25" />
<line x1="706.3" y1="556" x2="706.3" y2="790" stroke="#161616" stroke-width="1.25" />
<line x1="563" y1="581" x2="563" y2="605" stroke="#777" stroke-width="1.3" />
<line x1="530" y1="554.9" x2="593.3" y2="554.9" stroke="#444" stroke-width="1.2" />
<polygon points="570.4,554.9 580.6,552.2 580.6,557.6" fill="#111"/>
<polygon points="593.5,554.9 583.3,552.2 583.3,557.6" fill="#111"/>
<text x="509.6" y="553.4" font-size="12.4" text-anchor="middle" fill="#222"  stroke="#222" stroke-width="0.28">9.7</text>
<path d="M499.48 541.56H496.58V556.25H499.48" stroke="#222" stroke-width="1.1" fill="none" />
<path d="M520.52 541.56H523.42V556.25H520.52" stroke="#222" stroke-width="1.1" fill="none" />
<text x="509.6" y="567.4" font-size="12.4" text-anchor="middle" fill="#222"  stroke="#222" stroke-width="0.28">.38</text>
<line x1="530" y1="589" x2="558" y2="589" stroke="#444" stroke-width="1.2" />
<polygon points="562.9,589 552.7,586.3 552.7,591.7" fill="#111"/>
<polygon points="570.4,589 580.6,586.3 580.6,591.7" fill="#111"/>
<line x1="578" y1="589" x2="588.7" y2="589" stroke="#666" stroke-width="1.2" />
<text x="509.6" y="587.4" font-size="12.4" text-anchor="middle" fill="#222"  stroke="#222" stroke-width="0.28">3.2</text>
<path d="M499.48 575.56H496.58V590.25H499.48" stroke="#222" stroke-width="1.1" fill="none" />
<path d="M520.52 575.56H523.42V590.25H520.52" stroke="#222" stroke-width="1.1" fill="none" />
<text x="509.6" y="601.4" font-size="12.4" text-anchor="middle" fill="#222"  stroke="#222" stroke-width="0.28">.13</text>
<line x1="644.8" y1="533.2" x2="681" y2="533.2" stroke="#161616" stroke-width="1.25" />
<polygon points="644.8,533.2 655,530.5 655,535.9" fill="#111"/>
<polygon points="668.5,533.2 658.3,530.5 658.3,535.9" fill="#111"/>
<text x="698.3" y="532.4" font-size="12.4" text-anchor="middle" fill="#222"  stroke="#222" stroke-width="0.28">10</text>
<path d="M689.91 520.56H687.01V535.25H689.91" stroke="#222" stroke-width="1.1" fill="none" />
<path d="M707.49 520.56H710.39V535.25H707.49" stroke="#222" stroke-width="1.1" fill="none" />
<text x="698.6" y="546.4" font-size="12.4" text-anchor="middle" fill="#222"  stroke="#222" stroke-width="0.28">.39</text>
<line x1="668.5" y1="564.8" x2="715" y2="564.8" stroke="#161616" stroke-width="1.25" />
<polygon points="668.5,564.8 678.7,562.1 678.7,567.5" fill="#111"/>
<polygon points="706.3,564.8 696.1,562.1 696.1,567.5" fill="#111"/>
<text x="741" y="549.9" font-size="12.4" text-anchor="middle" fill="#222"  stroke="#222" stroke-width="0.28">15.9</text>
<path d="M727.43 538.06H724.53V552.75H727.43" stroke="#222" stroke-width="1.1" fill="none" />
<path d="M755.37 538.06H758.27V552.75H755.37" stroke="#222" stroke-width="1.1" fill="none" />
<text x="741" y="562.6" font-size="12.4" text-anchor="middle" fill="#222"  stroke="#222" stroke-width="0.28">.62</text>
<text x="741" y="577.1" font-size="12.4" text-anchor="middle" fill="#222"  stroke="#222" stroke-width="0.28">STUD</text>
<text x="741" y="590.6" font-size="12.4" text-anchor="middle" fill="#222"  stroke="#222" stroke-width="0.28">HEIGHT</text>
<line x1="579.7" y1="784.1" x2="717.8" y2="784.1" stroke="#161616" stroke-width="1.25" />
<polygon points="593.4,784.1 603.6,781.4 603.6,786.8" fill="#111"/>
<polygon points="644.8,784.1 634.6,781.4 634.6,786.8" fill="#111"/>
<polygon points="644.8,784.1 655,781.4 655,786.8" fill="#111"/>
<polygon points="706.3,784.1 696.1,781.4 696.1,786.8" fill="#111"/>
<text x="556" y="783.1" font-size="12.4" text-anchor="middle" fill="#222"  stroke="#222" stroke-width="0.28">21.4</text>
<path d="M542.43 771.26H539.53V785.95H542.43" stroke="#222" stroke-width="1.1" fill="none" />
<path d="M570.37 771.26H573.27V785.95H570.37" stroke="#222" stroke-width="1.1" fill="none" />
<text x="556" y="795.6" font-size="12.4" text-anchor="middle" fill="#222"  stroke="#222" stroke-width="0.28">.84</text>
<text x="741" y="783.1" font-size="12.4" text-anchor="middle" fill="#222"  stroke="#222" stroke-width="0.28">25.8</text>
<path d="M727.43 771.26H724.53V785.95H727.43" stroke="#222" stroke-width="1.1" fill="none" />
<path d="M755.37 771.26H758.27V785.95H755.37" stroke="#222" stroke-width="1.1" fill="none" />
<text x="741.3" y="795.6" font-size="12.4" text-anchor="middle" fill="#222"  stroke="#222" stroke-width="0.28">1.02</text>
<line x1="723.8" y1="694.3" x2="717.6" y2="694.3" stroke="#161616" stroke-width="1.25" />
<line x1="717.6" y1="694.3" x2="702" y2="679" stroke="#161616" stroke-width="1.25" />
<polygon points="696,674.2 704.6,678.6 701.4,682" fill="#111"/>
<text x="724.8" y="698.7" font-size="12.4" text-anchor="start" fill="#222"  stroke="#222" stroke-width="0.28">1/4"-20</text>
<text x="644.3" y="828.9" font-size="12.6" text-anchor="middle" fill="#222"  stroke="#222" stroke-width="0.28">SIDE - NO COVER</text><line x1="590.8" y1="831.6" x2="697.8" y2="831.6" stroke="#222" stroke-width="1.1" />
<!-- 60_product.py -->
<defs>
<filter id="pfBlur" x="-5%" y="-5%" width="110%" height="110%"><feGaussianBlur stdDeviation="0.45"/></filter>
<linearGradient id="pfFace" gradientUnits="userSpaceOnUse" x1="0" y1="535" x2="0" y2="708">
 <stop offset="0" stop-color="#ffffff"/><stop offset="0.2" stop-color="#e8e8e8"/><stop offset="0.42" stop-color="#aeaeae"/><stop offset="0.68" stop-color="#7c7c7c"/><stop offset="1" stop-color="#626262"/>
</linearGradient>
<linearGradient id="pfFaceR" gradientUnits="userSpaceOnUse" x1="966" y1="0" x2="1110" y2="0">
 <stop offset="0" stop-color="#fff" stop-opacity="0.3"/><stop offset="0.25" stop-color="#fff" stop-opacity="0"/><stop offset="0.6" stop-color="#000" stop-opacity="0.14"/><stop offset="1" stop-color="#000" stop-opacity="0.26"/>
</linearGradient>
<linearGradient id="pfRing" gradientUnits="userSpaceOnUse" x1="0" y1="545" x2="0" y2="700">
 <stop offset="0" stop-color="#bcbcbc"/><stop offset="0.5" stop-color="#a2a2a2"/><stop offset="1" stop-color="#767676"/>
</linearGradient>
<radialGradient id="pfCone" gradientUnits="userSpaceOnUse" cx="1094" cy="600" r="34" gradientTransform="translate(1094 600) scale(0.55 1) translate(-1094 -600)">
 <stop offset="0" stop-color="#f4f4f4"/><stop offset="0.35" stop-color="#d0d0d0"/><stop offset="0.7" stop-color="#6e6e6e"/><stop offset="1" stop-color="#2e2e2e"/>
</radialGradient>
<linearGradient id="pfRing2" gradientUnits="userSpaceOnUse" x1="0" y1="563" x2="0" y2="690">
 <stop offset="0" stop-color="#b0b0b0"/><stop offset="0.35" stop-color="#d8d8d8"/><stop offset="0.7" stop-color="#9a9a9a"/><stop offset="1" stop-color="#555"/>
</linearGradient>
<linearGradient id="pfSide" gradientUnits="userSpaceOnUse" x1="0" y1="535" x2="0" y2="695">
 <stop offset="0" stop-color="#7c7c7c"/><stop offset="0.27" stop-color="#737373"/><stop offset="0.47" stop-color="#676767"/><stop offset="0.73" stop-color="#5e5e5e"/><stop offset="1" stop-color="#535353"/>
</linearGradient>
<linearGradient id="pfCham" gradientUnits="userSpaceOnUse" x1="1139" y1="521" x2="1147.5" y2="541.5">
 <stop offset="0" stop-color="#1c1c1c"/><stop offset="0.3" stop-color="#333333"/><stop offset="0.6" stop-color="#626262"/><stop offset="0.85" stop-color="#a8a8a8"/><stop offset="1" stop-color="#c8c8c8"/>
</linearGradient>
<linearGradient id="pfBot" gradientUnits="userSpaceOnUse" x1="1140" y1="680" x2="1143" y2="688">
 <stop offset="0" stop-color="#4a4a4a"/><stop offset="1" stop-color="#1c1c1c"/>
</linearGradient>
<linearGradient id="pfBoss" gradientUnits="userSpaceOnUse" x1="0" y1="0" x2="1" y2="1">
 <stop offset="0" stop-color="#f4f4f4"/><stop offset="1" stop-color="#9c9c9c"/>
</linearGradient>
</defs>
<g filter="url(#pfBlur)">
<path d="M966 548 Q966.3 538.5 975 535.8 L1026.5 501 Q1030 498 1036 498.7 L1154 516 Q1168 518.5 1170.8 530 L1171.2 668 Q1171 676 1164 681.5 L1112 702 Q1104 707.5 1096 708 L985 691.5 Q968 689 966.4 674 Z" stroke="#0c0c0c" stroke-width="1.2" fill="#1f1f1f" stroke-linejoin="round"/>
<path d="M975 536 L1026.5 501.3 Q1030 498.6 1036 499.2 L1154 516.4 Q1165 518.5 1169.5 527 L1110 553.5 Z" stroke="none" stroke-width="0" fill="#212121" />
<path d="M1021 521.5 L1046 501.8 L1153 517.3 L1118 532.5 Z" stroke="#080808" stroke-width="0.8" fill="#272727" />
<path d="M1003 525.5 L1120 541.5 L1131 537" stroke="#080808" stroke-width="0.8" fill="none" />
<path d="M994.5 531.5 L1113 547.5" stroke="#080808" stroke-width="0.8" fill="none" />
<path d="M1118 532.5 L1131 537 L1160 524" stroke="#080808" stroke-width="0.7" fill="none" />
<path d="M1110 553.5 L1169.8 528 Q1171 529 1171 532 L1171.2 668 Q1171 676 1164 681.5 L1112 702 Z" stroke="none" stroke-width="0" fill="url(#pfSide)" />
<path d="M1110 553.8 L1122 537.6 L1157 518.4 Q1166.5 520.3 1170.4 529.6 L1170.8 533.6 L1134.6 552 L1120.2 560.4 L1110.2 556.4 Z" stroke="none" stroke-width="0" fill="url(#pfCham)" />
<path d="M1110 554 L1122 537.8 L1157.5 518.5" stroke="#0c0c0c" stroke-width="0.9" fill="none" />
<path d="M1110.3 556.4 L1120.2 560.4 L1134.8 552.2 L1170.8 533.8" stroke="#0c0c0c" stroke-width="1" fill="none" />
<path d="M1120.2 560.4 Q1119.5 545 1130 533.2" stroke="#0c0c0c" stroke-width="1" fill="none" />
<path d="M1135 552 Q1134.5 538 1144.5 525.4" stroke="#0c0c0c" stroke-width="1" fill="none" />
<path d="M1135.6 570 L1171 548.8" stroke="#0a0a0a" stroke-width="2" fill="none" />
<path d="M1135.6 666 L1171 654.8" stroke="#0a0a0a" stroke-width="2.3" fill="none" />
<line x1="1163.4" y1="553.5" x2="1163.6" y2="657" stroke="#0a0a0a" stroke-width="1.7" />
<line x1="1111.2" y1="556" x2="1111.4" y2="703" stroke="#3a3a3a" stroke-width="2.4" />
<line x1="1110" y1="554" x2="1110.3" y2="703" stroke="#0c0c0c" stroke-width="1.5" />
<line x1="1120.3" y1="560.5" x2="1120.4" y2="698.5" stroke="#0c0c0c" stroke-width="1.7" />
<line x1="1135.2" y1="552" x2="1135.2" y2="692.5" stroke="#0c0c0c" stroke-width="1.8" />
<path d="M1104 707.4 L1164.5 681.8 Q1171 676.5 1171.2 668 L1171.1 662 Q1170 669.5 1163 673.6 L1110.5 697.6 Z" stroke="none" stroke-width="0" fill="url(#pfBot)" />
<path d="M1110.5 697.6 L1163 673.6 Q1170 669.5 1171.1 662" stroke="#0c0c0c" stroke-width="0.9" fill="none" />
<path d="M966 548 Q966.3 537 976 535.8 L1099 551 Q1109.8 552.5 1110 563 L1110.2 694 Q1110 708 1097 707.8 L985 691.3 Q967.5 688.5 966.4 674 Z" stroke="none" stroke-width="0" fill="url(#pfFace)" />
<path d="M966 548 Q966.3 537 976 535.8 L1099 551 Q1109.8 552.5 1110 563 L1110.2 694 Q1110 708 1097 707.8 L985 691.3 Q967.5 688.5 966.4 674 Z" stroke="none" stroke-width="0" fill="url(#pfFaceR)" />
<path d="M971 538.6 L1106 555.4" stroke="#161616" stroke-width="2.2" fill="none" />
<path d="M974 541.2 L1100 556.8" stroke="#fafafa" stroke-width="1" fill="none" />
<path d="M972 687 Q980 692.5 990 693.6 L1096 709" stroke="#1c1c1c" stroke-width="2.6" fill="none" />
<path d="M966 548 Q966.3 537 976 535.8 L1099 551 Q1109.8 552.5 1110 563 L1110.2 694 Q1110 708 1097 707.8 L985 691.3 Q967.5 688.5 966.4 674 Z" stroke="#0c0c0c" stroke-width="1.9" fill="none" stroke-linejoin="round"/>
<clipPath id="pfClip"><path d="M966 548 Q966.3 537 976 535.8 L1099 551 Q1109.8 552.5 1110 563 L1110.2 694 Q1110 708 1097 707.8 L985 691.3 Q967.5 688.5 966.4 674 Z"/></clipPath>
<g clip-path="url(#pfClip)">
<path d="M1107.48 631.33 L1107.39 635.3 L1107.1 639.24 L1106.62 643.13 L1105.94 646.96 L1105.08 650.72 L1104.04 654.4 L1102.8 657.98 L1101.39 661.47 L1099.8 664.85 L1098.04 668.11 L1096.11 671.25 L1094.02 674.24 L1091.78 677.09 L1089.38 679.79 L1086.84 682.33 L1084.16 684.71 L1081.36 686.9 L1078.43 688.92 L1075.39 690.76 L1072.24 692.41 L1069 693.86 L1065.67 695.11 L1062.26 696.16 L1058.78 697.01 L1055.24 697.65 L1051.65 698.08 L1048.03 698.3 L1044.37 698.31 L1040.69 698.11 L1037 697.7 L1033.31 697.08 L1029.63 696.26 L1025.97 695.22 L1022.35 693.99 L1018.76 692.56 L1015.22 690.93 L1011.74 689.12 L1008.33 687.11 L1005 684.93 L1001.76 682.58 L998.61 680.05 L995.57 677.37 L992.64 674.53 L989.84 671.55 L987.16 668.43 L984.62 665.18 L982.22 661.82 L979.98 658.34 L977.89 654.76 L975.96 651.09 L974.2 647.34 L972.61 643.51 L971.2 639.63 L969.96 635.7 L968.92 631.73 L968.06 627.73 L967.38 623.71 L966.9 619.69 L966.61 615.67 L966.51 611.67 L966.61 607.7 L966.9 603.76 L967.38 599.87 L968.06 596.04 L968.92 592.28 L969.96 588.6 L971.2 585.02 L972.61 581.53 L974.2 578.15 L975.96 574.89 L977.89 571.75 L979.98 568.76 L982.22 565.91 L984.62 563.21 L987.16 560.67 L989.84 558.29 L992.64 556.1 L995.57 554.08 L998.61 552.24 L1001.76 550.59 L1005 549.14 L1008.33 547.89 L1011.74 546.84 L1015.22 545.99 L1018.76 545.35 L1022.35 544.92 L1025.97 544.7 L1029.63 544.69 L1033.31 544.89 L1037 545.3 L1040.69 545.92 L1044.37 546.74 L1048.03 547.78 L1051.65 549.01 L1055.24 550.44 L1058.78 552.07 L1062.26 553.88 L1065.67 555.89 L1069 558.07 L1072.24 560.42 L1075.39 562.95 L1078.43 565.63 L1081.36 568.47 L1084.16 571.45 L1086.84 574.57 L1089.38 577.82 L1091.78 581.18 L1094.02 584.66 L1096.11 588.24 L1098.04 591.91 L1099.8 595.66 L1101.39 599.49 L1102.8 603.37 L1104.04 607.3 L1105.08 611.27 L1105.94 615.27 L1106.62 619.29 L1107.1 623.31 L1107.39 627.33Z" fill="url(#pfRing)" stroke="#0c0c0c" stroke-width="2"/>
<path d="M1097.03 634.27 L1096.94 637.94 L1096.67 641.57 L1096.23 645.15 L1095.61 648.69 L1094.81 652.15 L1093.84 655.55 L1092.71 658.86 L1091.41 662.08 L1089.94 665.2 L1088.32 668.2 L1086.54 671.09 L1084.61 673.86 L1082.54 676.49 L1080.32 678.98 L1077.98 681.32 L1075.51 683.51 L1072.92 685.54 L1070.22 687.4 L1067.42 689.1 L1064.51 690.62 L1061.52 691.95 L1058.45 693.11 L1055.3 694.08 L1052.09 694.86 L1048.83 695.45 L1045.52 695.85 L1042.17 696.05 L1038.8 696.06 L1035.4 695.88 L1032 695.5 L1028.6 694.93 L1025.2 694.17 L1021.83 693.22 L1018.48 692.08 L1015.17 690.76 L1011.91 689.26 L1008.7 687.58 L1005.55 685.73 L1002.48 683.72 L999.49 681.55 L996.58 679.22 L993.78 676.74 L991.08 674.13 L988.49 671.37 L986.02 668.5 L983.68 665.5 L981.46 662.39 L979.39 659.18 L977.46 655.88 L975.68 652.5 L974.06 649.04 L972.59 645.51 L971.29 641.93 L970.16 638.3 L969.19 634.64 L968.39 630.95 L967.77 627.24 L967.33 623.53 L967.06 619.82 L966.97 616.13 L967.06 612.46 L967.33 608.83 L967.77 605.25 L968.39 601.71 L969.19 598.25 L970.16 594.85 L971.29 591.54 L972.59 588.32 L974.06 585.2 L975.68 582.2 L977.46 579.31 L979.39 576.54 L981.46 573.91 L983.68 571.42 L986.02 569.08 L988.49 566.89 L991.08 564.86 L993.78 563 L996.58 561.3 L999.49 559.78 L1002.48 558.45 L1005.55 557.29 L1008.7 556.32 L1011.91 555.54 L1015.17 554.95 L1018.48 554.55 L1021.83 554.35 L1025.2 554.34 L1028.6 554.52 L1032 554.9 L1035.4 555.47 L1038.8 556.23 L1042.17 557.18 L1045.52 558.32 L1048.83 559.64 L1052.09 561.14 L1055.3 562.82 L1058.45 564.67 L1061.52 566.68 L1064.51 568.85 L1067.42 571.18 L1070.22 573.66 L1072.92 576.27 L1075.51 579.03 L1077.98 581.9 L1080.32 584.9 L1082.54 588.01 L1084.61 591.22 L1086.54 594.52 L1088.32 597.9 L1089.94 601.36 L1091.41 604.89 L1092.71 608.47 L1093.84 612.1 L1094.81 615.76 L1095.61 619.45 L1096.23 623.16 L1096.67 626.87 L1096.94 630.58Z" fill="#2d2d2d" stroke="#0c0c0c" stroke-width="3"/>
<path d="M1096.1 634.14 L1096.01 637.75 L1095.75 641.33 L1095.31 644.87 L1094.7 648.35 L1093.92 651.77 L1092.97 655.12 L1091.84 658.38 L1090.56 661.55 L1089.12 664.63 L1087.51 667.59 L1085.76 670.44 L1083.86 673.17 L1081.82 675.76 L1079.64 678.21 L1077.33 680.52 L1074.89 682.68 L1072.34 684.68 L1069.68 686.52 L1066.91 688.19 L1064.05 689.69 L1061.1 691.01 L1058.07 692.14 L1054.97 693.1 L1051.81 693.87 L1048.59 694.45 L1045.33 694.84 L1042.03 695.05 L1038.7 695.05 L1035.35 694.87 L1032 694.5 L1028.65 693.94 L1025.3 693.19 L1021.97 692.25 L1018.67 691.13 L1015.41 689.82 L1012.19 688.35 L1009.03 686.69 L1005.93 684.87 L1002.9 682.89 L999.95 680.75 L997.09 678.45 L994.32 676.01 L991.66 673.43 L989.11 670.72 L986.67 667.88 L984.36 664.93 L982.18 661.86 L980.14 658.7 L978.24 655.45 L976.49 652.11 L974.88 648.7 L973.44 645.22 L972.16 641.69 L971.03 638.11 L970.08 634.5 L969.3 630.86 L968.69 627.21 L968.25 623.55 L967.99 619.9 L967.9 616.26 L967.99 612.65 L968.25 609.07 L968.69 605.53 L969.3 602.05 L970.08 598.63 L971.03 595.28 L972.16 592.02 L973.44 588.85 L974.88 585.77 L976.49 582.81 L978.24 579.96 L980.14 577.23 L982.18 574.64 L984.36 572.19 L986.67 569.88 L989.11 567.72 L991.66 565.72 L994.32 563.88 L997.09 562.21 L999.95 560.71 L1002.9 559.39 L1005.93 558.26 L1009.03 557.3 L1012.19 556.53 L1015.41 555.95 L1018.67 555.56 L1021.97 555.35 L1025.3 555.35 L1028.65 555.53 L1032 555.9 L1035.35 556.46 L1038.7 557.21 L1042.03 558.15 L1045.33 559.27 L1048.59 560.58 L1051.81 562.05 L1054.97 563.71 L1058.07 565.53 L1061.1 567.51 L1064.05 569.65 L1066.91 571.95 L1069.68 574.39 L1072.34 576.97 L1074.89 579.68 L1077.33 582.52 L1079.64 585.47 L1081.82 588.54 L1083.86 591.7 L1085.76 594.95 L1087.51 598.29 L1089.12 601.7 L1090.56 605.18 L1091.84 608.71 L1092.97 612.29 L1093.92 615.9 L1094.7 619.54 L1095.31 623.19 L1095.75 626.85 L1096.01 630.5Z" fill="url(#pfCone)" stroke="none" stroke-width="0"/>
<path d="M1085.62 634.63 L1085.53 637.96 L1085.29 641.25 L1084.89 644.51 L1084.33 647.72 L1083.6 650.86 L1082.73 653.94 L1081.7 656.95 L1080.51 659.87 L1079.18 662.7 L1077.71 665.43 L1076.09 668.05 L1074.34 670.56 L1072.46 672.95 L1070.46 675.21 L1068.33 677.33 L1066.09 679.32 L1063.74 681.16 L1061.29 682.85 L1058.74 684.39 L1056.11 685.77 L1053.39 686.98 L1050.6 688.03 L1047.75 688.91 L1044.84 689.62 L1041.87 690.16 L1038.87 690.52 L1035.83 690.7 L1032.77 690.71 L1029.69 690.54 L1026.6 690.2 L1023.51 689.68 L1020.43 688.99 L1017.37 688.13 L1014.33 687.09 L1011.33 685.9 L1008.36 684.53 L1005.45 683.01 L1002.6 681.34 L999.81 679.51 L997.09 677.54 L994.46 675.42 L991.91 673.18 L989.46 670.8 L987.11 668.31 L984.87 665.69 L982.74 662.97 L980.74 660.15 L978.86 657.24 L977.11 654.25 L975.49 651.17 L974.02 648.03 L972.69 644.83 L971.5 641.58 L970.47 638.29 L969.6 634.96 L968.87 631.61 L968.31 628.25 L967.91 624.88 L967.67 621.52 L967.58 618.17 L967.67 614.84 L967.91 611.55 L968.31 608.29 L968.87 605.08 L969.6 601.94 L970.47 598.86 L971.5 595.85 L972.69 592.93 L974.02 590.1 L975.49 587.37 L977.11 584.75 L978.86 582.24 L980.74 579.85 L982.74 577.59 L984.87 575.47 L987.11 573.48 L989.46 571.64 L991.91 569.95 L994.46 568.41 L997.09 567.03 L999.81 565.82 L1002.6 564.77 L1005.45 563.89 L1008.36 563.18 L1011.33 562.64 L1014.33 562.28 L1017.37 562.1 L1020.43 562.09 L1023.51 562.26 L1026.6 562.6 L1029.69 563.12 L1032.77 563.81 L1035.83 564.67 L1038.87 565.71 L1041.87 566.9 L1044.84 568.27 L1047.75 569.79 L1050.6 571.46 L1053.39 573.29 L1056.11 575.26 L1058.74 577.38 L1061.29 579.62 L1063.74 582 L1066.09 584.49 L1068.33 587.11 L1070.46 589.83 L1072.46 592.65 L1074.34 595.56 L1076.09 598.55 L1077.71 601.63 L1079.18 604.77 L1080.51 607.97 L1081.7 611.22 L1082.73 614.51 L1083.6 617.84 L1084.33 621.19 L1084.89 624.55 L1085.29 627.92 L1085.53 631.28Z" fill="url(#pfRing2)" stroke="#0c0c0c" stroke-width="3"/>
<path d="M1080.87 635.19 L1080.79 638.34 L1080.56 641.46 L1080.18 644.54 L1079.65 647.58 L1078.97 650.56 L1078.14 653.47 L1077.16 656.32 L1076.04 659.08 L1074.78 661.76 L1073.38 664.35 L1071.86 666.83 L1070.2 669.21 L1068.42 671.47 L1066.52 673.61 L1064.51 675.62 L1062.38 677.5 L1060.16 679.24 L1057.84 680.84 L1055.43 682.3 L1052.93 683.6 L1050.36 684.75 L1047.72 685.75 L1045.02 686.58 L1042.26 687.25 L1039.46 687.76 L1036.62 688.1 L1033.74 688.28 L1030.84 688.28 L1027.92 688.13 L1025 687.8 L1022.08 687.31 L1019.16 686.65 L1016.26 685.84 L1013.38 684.86 L1010.54 683.73 L1007.74 682.44 L1004.98 681 L1002.28 679.41 L999.64 677.68 L997.07 675.81 L994.57 673.81 L992.16 671.68 L989.84 669.44 L987.62 667.07 L985.49 664.6 L983.48 662.03 L981.58 659.36 L979.8 656.6 L978.14 653.76 L976.62 650.85 L975.22 647.88 L973.96 644.85 L972.84 641.77 L971.86 638.65 L971.03 635.51 L970.35 632.34 L969.82 629.15 L969.44 625.96 L969.21 622.78 L969.13 619.61 L969.21 616.46 L969.44 613.34 L969.82 610.26 L970.35 607.22 L971.03 604.24 L971.86 601.33 L972.84 598.48 L973.96 595.72 L975.22 593.04 L976.62 590.45 L978.14 587.97 L979.8 585.59 L981.58 583.33 L983.48 581.19 L985.49 579.18 L987.62 577.3 L989.84 575.56 L992.16 573.96 L994.57 572.5 L997.06 571.2 L999.64 570.05 L1002.28 569.05 L1004.98 568.22 L1007.74 567.55 L1010.54 567.04 L1013.38 566.7 L1016.26 566.52 L1019.16 566.52 L1022.08 566.67 L1025 567 L1027.92 567.49 L1030.84 568.15 L1033.74 568.96 L1036.62 569.94 L1039.46 571.07 L1042.26 572.36 L1045.02 573.8 L1047.72 575.39 L1050.36 577.12 L1052.93 578.99 L1055.43 580.99 L1057.84 583.12 L1060.16 585.36 L1062.38 587.73 L1064.51 590.2 L1066.52 592.77 L1068.42 595.44 L1070.2 598.2 L1071.86 601.04 L1073.38 603.95 L1074.78 606.92 L1076.04 609.95 L1077.16 613.03 L1078.14 616.15 L1078.97 619.29 L1079.65 622.46 L1080.18 625.65 L1080.56 628.84 L1080.79 632.02Z" fill="#050505" stroke="none" stroke-width="0"/>
<path d="M1079.7 634.94 L1079.62 638.07 L1079.4 641.17 L1079.02 644.23 L1078.49 647.25 L1077.81 650.21 L1076.98 653.1 L1076.01 655.93 L1074.9 658.68 L1073.65 661.34 L1072.26 663.9 L1070.75 666.37 L1069.1 668.73 L1067.33 670.97 L1065.44 673.1 L1063.44 675.1 L1061.34 676.97 L1059.13 678.7 L1056.82 680.29 L1054.43 681.74 L1051.95 683.03 L1049.4 684.17 L1046.77 685.16 L1044.09 685.99 L1041.35 686.66 L1038.56 687.16 L1035.74 687.5 L1032.88 687.67 L1030 687.68 L1027.1 687.52 L1024.2 687.2 L1021.3 686.71 L1018.4 686.06 L1015.52 685.25 L1012.66 684.28 L1009.84 683.15 L1007.05 681.87 L1004.31 680.44 L1001.63 678.86 L999 677.15 L996.45 675.29 L993.97 673.3 L991.58 671.19 L989.27 668.96 L987.06 666.61 L984.96 664.15 L982.96 661.6 L981.07 658.94 L979.3 656.21 L977.65 653.39 L976.14 650.5 L974.75 647.54 L973.5 644.53 L972.39 641.48 L971.42 638.38 L970.59 635.25 L969.91 632.1 L969.38 628.94 L969 625.77 L968.78 622.61 L968.7 619.46 L968.78 616.33 L969 613.23 L969.38 610.17 L969.91 607.15 L970.59 604.19 L971.42 601.3 L972.39 598.47 L973.5 595.72 L974.75 593.06 L976.14 590.5 L977.65 588.03 L979.3 585.67 L981.07 583.43 L982.96 581.3 L984.96 579.3 L987.06 577.43 L989.27 575.7 L991.58 574.11 L993.97 572.66 L996.45 571.37 L999 570.23 L1001.63 569.24 L1004.31 568.41 L1007.05 567.74 L1009.84 567.24 L1012.66 566.9 L1015.52 566.73 L1018.4 566.72 L1021.3 566.88 L1024.2 567.2 L1027.1 567.69 L1030 568.34 L1032.88 569.15 L1035.74 570.12 L1038.56 571.25 L1041.35 572.53 L1044.09 573.96 L1046.77 575.54 L1049.4 577.25 L1051.95 579.11 L1054.43 581.1 L1056.82 583.21 L1059.13 585.44 L1061.34 587.79 L1063.44 590.25 L1065.44 592.8 L1067.33 595.46 L1069.1 598.19 L1070.75 601.01 L1072.26 603.9 L1073.65 606.86 L1074.9 609.87 L1076.01 612.92 L1076.98 616.02 L1077.81 619.15 L1078.49 622.3 L1079.02 625.46 L1079.4 628.63 L1079.62 631.79Z" fill="#050505" stroke="#000" stroke-width="0.8"/>
</g>
<ellipse cx="979.6" cy="549.8" rx="10.6" ry="12.4" stroke="#0c0c0c" stroke-width="1.2" fill="#3c3c3c"/>
<ellipse cx="981" cy="548" rx="9.6" ry="11" stroke="#0c0c0c" stroke-width="1.1" fill="#eeeeee"/>
<ellipse cx="983.4" cy="546.8" rx="5.6" ry="6.4" stroke="#0c0c0c" stroke-width="1.2" fill="#111"/>
<ellipse cx="1094.8" cy="567" rx="10.39" ry="12.15" stroke="#0c0c0c" stroke-width="1.2" fill="#3c3c3c"/>
<ellipse cx="1096.2" cy="565.2" rx="9.41" ry="10.78" stroke="#0c0c0c" stroke-width="1.1" fill="#c4c4c4"/>
<ellipse cx="1098.6" cy="564" rx="5.49" ry="6.27" stroke="#0c0c0c" stroke-width="1.2" fill="#5a5a5a"/>
<ellipse cx="1100" cy="564.8" rx="2" ry="2.8" stroke="none" stroke-width="0" fill="#b0b0b0"/>
<ellipse cx="979" cy="677" rx="10.07" ry="11.78" stroke="#0c0c0c" stroke-width="1.2" fill="#3c3c3c"/>
<ellipse cx="980.4" cy="675.2" rx="9.12" ry="10.45" stroke="#0c0c0c" stroke-width="1.1" fill="#909090"/>
<ellipse cx="982.8" cy="674" rx="5.32" ry="6.08" stroke="#0c0c0c" stroke-width="1.2" fill="#161616"/>
<ellipse cx="984.2" cy="674.8" rx="2" ry="2.8" stroke="none" stroke-width="0" fill="#9a9a9a"/>
<ellipse cx="1096.6" cy="692.4" rx="10.39" ry="12.15" stroke="#0c0c0c" stroke-width="1.2" fill="#3c3c3c"/>
<ellipse cx="1098" cy="690.6" rx="9.41" ry="10.78" stroke="#0c0c0c" stroke-width="1.1" fill="#8e8e8e"/>
<ellipse cx="1100.4" cy="689.4" rx="5.49" ry="6.27" stroke="#0c0c0c" stroke-width="1.2" fill="#3a3a3a"/>
<ellipse cx="1101.8" cy="690.2" rx="2" ry="2.8" stroke="none" stroke-width="0" fill="#e0e0e0"/>
<g transform="matrix(0.925 0.139 -0.01 1 1024.2 627.2)" fill="#e8e8e8" font-weight="bold" stroke="#e8e8e8" stroke-width="0.22">
<rect x="-10.5" y="-43.6" width="4.2" height="2.6" fill="#4fd36a" stroke="none"/>
<text x="-4.5" y="-40.9" font-size="3.6" text-anchor="start" >Status</text>
<text x="-38.5" y="-34.2" font-size="4.3" text-anchor="start" >SOLID ON – Combined</text>
<text x="-42" y="-27.8" font-size="4.3" text-anchor="start" >SINGLE FLASH (15 sec.) – Standby</text>
<text x="-46" y="-21.6" font-size="4.3" text-anchor="start" >DOUBLE FLASH – Start Isolation</text>
<text x="-48" y="-15.2" font-size="4.3" text-anchor="start" >TRIPLE FLASH – Under Voltage Isolation</text>
<rect x="-50.5" y="-12.6" width="99" height="0.7" fill="#cfcfcf" stroke="none"/>
<rect x="-49.5" y="-9.8" width="9.2" height="9.6" fill="none" stroke="#e8e8e8" stroke-width="0.9"/>
<path d="M-48 -1 C-48.5 -5 -46.5 -7.6 -43.8 -7.6 C-42 -7.6 -41 -6.4 -41 -5 L-41 -1.2 L-44 -1.2 C-43.8 -3.4 -44.6 -4.6 -46 -4.3 C-47.2 -4 -47.6 -2.4 -48 -1Z" fill="#e8e8e8"/>
<text x="-38.4" y="-2.6" font-size="8.4" text-anchor="start" textLength="40" lengthAdjust="spacingAndGlyphs" font-weight="normal">BLUE SEA</text>
<text x="-38.2" y="0.9" font-size="2.8" text-anchor="start" textLength="40" lengthAdjust="spacing" fill="#aaa" stroke="none">S Y S T E M S</text>
<text x="-50.5" y="14.2" font-size="15.5" text-anchor="start" textLength="16" lengthAdjust="spacingAndGlyphs" stroke-width="0.9">m</text>
<text x="-33.6" y="14.2" font-size="12.6" text-anchor="start" textLength="37" lengthAdjust="spacingAndGlyphs" stroke-width="0.6">-ACR</text>
<text x="-50.5" y="20.6" font-size="4.5" text-anchor="start" textLength="97" lengthAdjust="spacingAndGlyphs" fill="#dedede" stroke="#dedede">7601 AUTOMATIC CHARGING RELAY</text>
<text x="-46.5" y="27.3" font-size="3.5" text-anchor="start" fill="#dcdcdc" stroke="#dcdcdc">12V / 24V DC</text>
<text x="-43" y="33.6" font-size="3.6" text-anchor="start" fill="#dcdcdc" stroke="#dcdcdc">65A Continuous</text>
<text x="-38.5" y="39.8" font-size="3.6" text-anchor="start" fill="#dcdcdc" stroke="#dcdcdc">115A Intermittent</text>
<text x="0" y="27.8" font-size="3.6" text-anchor="start" fill="#dcdcdc" stroke="#dcdcdc">Ignition Protected</text>
<text x="0" y="33.6" font-size="3.6" text-anchor="start" fill="#dcdcdc" stroke="#dcdcdc">SAE J1171</text>
<text x="0" y="39.4" font-size="3.6" text-anchor="start" fill="#dcdcdc" stroke="#dcdcdc">ISO 8846</text>
<text x="0" y="45.2" font-size="3.6" text-anchor="start" fill="#dcdcdc" stroke="#dcdcdc">Waterproof IP67</text>
<text x="-20" y="51.6" font-size="3.7" text-anchor="start" fill="#dcdcdc" stroke="#dcdcdc">www.bluesea.com</text>
<path d="M29.2 33.2 A4.3 4.3 0 1 0 29.2 40.6" fill="none" stroke="#e8e8e8" stroke-width="1.3"/>
<path d="M36.2 33.2 A4.3 4.3 0 1 0 36.2 40.6 M31.6 36.9 H35.4" fill="none" stroke="#e8e8e8" stroke-width="1.3"/>
<rect x="23" y="-8.5" width="25" height="25" fill="#e6e6e6" stroke="none"/>
<path d="M24.2 -7.3h1.13v1.13h-1.13zM25.28 -7.3h1.13v1.13h-1.13zM26.35 -7.3h1.13v1.13h-1.13zM27.43 -7.3h1.13v1.13h-1.13zM28.5 -7.3h1.13v1.13h-1.13zM29.58 -7.3h1.13v1.13h-1.13zM30.66 -7.3h1.13v1.13h-1.13zM32.81 -7.3h1.13v1.13h-1.13zM33.89 -7.3h1.13v1.13h-1.13zM36.04 -7.3h1.13v1.13h-1.13zM39.27 -7.3h1.13v1.13h-1.13zM40.34 -7.3h1.13v1.13h-1.13zM41.42 -7.3h1.13v1.13h-1.13zM42.5 -7.3h1.13v1.13h-1.13zM43.57 -7.3h1.13v1.13h-1.13zM44.65 -7.3h1.13v1.13h-1.13zM45.72 -7.3h1.13v1.13h-1.13zM24.2 -6.22h1.13v1.13h-1.13zM30.66 -6.22h1.13v1.13h-1.13zM32.81 -6.22h1.13v1.13h-1.13zM33.89 -6.22h1.13v1.13h-1.13zM36.04 -6.22h1.13v1.13h-1.13zM37.11 -6.22h1.13v1.13h-1.13zM39.27 -6.22h1.13v1.13h-1.13zM45.72 -6.22h1.13v1.13h-1.13zM24.2 -5.15h1.13v1.13h-1.13zM26.35 -5.15h1.13v1.13h-1.13zM27.43 -5.15h1.13v1.13h-1.13zM28.5 -5.15h1.13v1.13h-1.13zM30.66 -5.15h1.13v1.13h-1.13zM32.81 -5.15h1.13v1.13h-1.13zM33.89 -5.15h1.13v1.13h-1.13zM34.96 -5.15h1.13v1.13h-1.13zM37.11 -5.15h1.13v1.13h-1.13zM39.27 -5.15h1.13v1.13h-1.13zM41.42 -5.15h1.13v1.13h-1.13zM42.5 -5.15h1.13v1.13h-1.13zM43.57 -5.15h1.13v1.13h-1.13zM45.72 -5.15h1.13v1.13h-1.13zM24.2 -4.07h1.13v1.13h-1.13zM26.35 -4.07h1.13v1.13h-1.13zM27.43 -4.07h1.13v1.13h-1.13zM28.5 -4.07h1.13v1.13h-1.13zM30.66 -4.07h1.13v1.13h-1.13zM32.81 -4.07h1.13v1.13h-1.13zM37.11 -4.07h1.13v1.13h-1.13zM39.27 -4.07h1.13v1.13h-1.13zM41.42 -4.07h1.13v1.13h-1.13zM42.5 -4.07h1.13v1.13h-1.13zM43.57 -4.07h1.13v1.13h-1.13zM45.72 -4.07h1.13v1.13h-1.13zM24.2 -3h1.13v1.13h-1.13zM26.35 -3h1.13v1.13h-1.13zM27.43 -3h1.13v1.13h-1.13zM28.5 -3h1.13v1.13h-1.13zM30.66 -3h1.13v1.13h-1.13zM33.89 -3h1.13v1.13h-1.13zM36.04 -3h1.13v1.13h-1.13zM37.11 -3h1.13v1.13h-1.13zM39.27 -3h1.13v1.13h-1.13zM41.42 -3h1.13v1.13h-1.13zM42.5 -3h1.13v1.13h-1.13zM43.57 -3h1.13v1.13h-1.13zM45.72 -3h1.13v1.13h-1.13zM24.2 -1.92h1.13v1.13h-1.13zM30.66 -1.92h1.13v1.13h-1.13zM32.81 -1.92h1.13v1.13h-1.13zM33.89 -1.92h1.13v1.13h-1.13zM36.04 -1.92h1.13v1.13h-1.13zM39.27 -1.92h1.13v1.13h-1.13zM45.72 -1.92h1.13v1.13h-1.13zM24.2 -0.84h1.13v1.13h-1.13zM25.28 -0.84h1.13v1.13h-1.13zM26.35 -0.84h1.13v1.13h-1.13zM27.43 -0.84h1.13v1.13h-1.13zM28.5 -0.84h1.13v1.13h-1.13zM29.58 -0.84h1.13v1.13h-1.13zM30.66 -0.84h1.13v1.13h-1.13zM33.89 -0.84h1.13v1.13h-1.13zM36.04 -0.84h1.13v1.13h-1.13zM37.11 -0.84h1.13v1.13h-1.13zM39.27 -0.84h1.13v1.13h-1.13zM40.34 -0.84h1.13v1.13h-1.13zM41.42 -0.84h1.13v1.13h-1.13zM42.5 -0.84h1.13v1.13h-1.13zM43.57 -0.84h1.13v1.13h-1.13zM44.65 -0.84h1.13v1.13h-1.13zM45.72 -0.84h1.13v1.13h-1.13zM32.81 0.23h1.13v1.13h-1.13zM34.96 0.23h1.13v1.13h-1.13zM36.04 0.23h1.13v1.13h-1.13zM24.2 1.31h1.13v1.13h-1.13zM25.28 1.31h1.13v1.13h-1.13zM28.5 1.31h1.13v1.13h-1.13zM33.89 1.31h1.13v1.13h-1.13zM36.04 1.31h1.13v1.13h-1.13zM37.11 1.31h1.13v1.13h-1.13zM39.27 1.31h1.13v1.13h-1.13zM40.34 1.31h1.13v1.13h-1.13zM41.42 1.31h1.13v1.13h-1.13zM24.2 2.39h1.13v1.13h-1.13zM28.5 2.39h1.13v1.13h-1.13zM31.73 2.39h1.13v1.13h-1.13zM33.89 2.39h1.13v1.13h-1.13zM39.27 2.39h1.13v1.13h-1.13zM40.34 2.39h1.13v1.13h-1.13zM42.5 2.39h1.13v1.13h-1.13zM43.57 2.39h1.13v1.13h-1.13zM44.65 2.39h1.13v1.13h-1.13zM45.72 2.39h1.13v1.13h-1.13zM24.2 3.46h1.13v1.13h-1.13zM26.35 3.46h1.13v1.13h-1.13zM27.43 3.46h1.13v1.13h-1.13zM28.5 3.46h1.13v1.13h-1.13zM30.66 3.46h1.13v1.13h-1.13zM31.73 3.46h1.13v1.13h-1.13zM37.11 3.46h1.13v1.13h-1.13zM38.19 3.46h1.13v1.13h-1.13zM39.27 3.46h1.13v1.13h-1.13zM42.5 3.46h1.13v1.13h-1.13zM43.57 3.46h1.13v1.13h-1.13zM44.65 3.46h1.13v1.13h-1.13zM45.72 3.46h1.13v1.13h-1.13zM24.2 4.54h1.13v1.13h-1.13zM26.35 4.54h1.13v1.13h-1.13zM27.43 4.54h1.13v1.13h-1.13zM28.5 4.54h1.13v1.13h-1.13zM29.58 4.54h1.13v1.13h-1.13zM37.11 4.54h1.13v1.13h-1.13zM42.5 4.54h1.13v1.13h-1.13zM43.57 4.54h1.13v1.13h-1.13zM44.65 4.54h1.13v1.13h-1.13zM24.2 5.61h1.13v1.13h-1.13zM25.28 5.61h1.13v1.13h-1.13zM26.35 5.61h1.13v1.13h-1.13zM27.43 5.61h1.13v1.13h-1.13zM28.5 5.61h1.13v1.13h-1.13zM29.58 5.61h1.13v1.13h-1.13zM30.66 5.61h1.13v1.13h-1.13zM31.73 5.61h1.13v1.13h-1.13zM32.81 5.61h1.13v1.13h-1.13zM33.89 5.61h1.13v1.13h-1.13zM34.96 5.61h1.13v1.13h-1.13zM38.19 5.61h1.13v1.13h-1.13zM39.27 5.61h1.13v1.13h-1.13zM40.34 5.61h1.13v1.13h-1.13zM41.42 5.61h1.13v1.13h-1.13zM42.5 5.61h1.13v1.13h-1.13zM45.72 5.61h1.13v1.13h-1.13zM32.81 6.69h1.13v1.13h-1.13zM33.89 6.69h1.13v1.13h-1.13zM34.96 6.69h1.13v1.13h-1.13zM36.04 6.69h1.13v1.13h-1.13zM37.11 6.69h1.13v1.13h-1.13zM39.27 6.69h1.13v1.13h-1.13zM40.34 6.69h1.13v1.13h-1.13zM43.57 6.69h1.13v1.13h-1.13zM45.72 6.69h1.13v1.13h-1.13zM24.2 7.77h1.13v1.13h-1.13zM25.28 7.77h1.13v1.13h-1.13zM26.35 7.77h1.13v1.13h-1.13zM27.43 7.77h1.13v1.13h-1.13zM28.5 7.77h1.13v1.13h-1.13zM29.58 7.77h1.13v1.13h-1.13zM30.66 7.77h1.13v1.13h-1.13zM37.11 7.77h1.13v1.13h-1.13zM38.19 7.77h1.13v1.13h-1.13zM39.27 7.77h1.13v1.13h-1.13zM43.57 7.77h1.13v1.13h-1.13zM44.65 7.77h1.13v1.13h-1.13zM24.2 8.84h1.13v1.13h-1.13zM30.66 8.84h1.13v1.13h-1.13zM38.19 8.84h1.13v1.13h-1.13zM40.34 8.84h1.13v1.13h-1.13zM41.42 8.84h1.13v1.13h-1.13zM42.5 8.84h1.13v1.13h-1.13zM43.57 8.84h1.13v1.13h-1.13zM44.65 8.84h1.13v1.13h-1.13zM24.2 9.92h1.13v1.13h-1.13zM26.35 9.92h1.13v1.13h-1.13zM27.43 9.92h1.13v1.13h-1.13zM28.5 9.92h1.13v1.13h-1.13zM30.66 9.92h1.13v1.13h-1.13zM33.89 9.92h1.13v1.13h-1.13zM38.19 9.92h1.13v1.13h-1.13zM39.27 9.92h1.13v1.13h-1.13zM40.34 9.92h1.13v1.13h-1.13zM41.42 9.92h1.13v1.13h-1.13zM42.5 9.92h1.13v1.13h-1.13zM24.2 11h1.13v1.13h-1.13zM26.35 11h1.13v1.13h-1.13zM27.43 11h1.13v1.13h-1.13zM28.5 11h1.13v1.13h-1.13zM30.66 11h1.13v1.13h-1.13zM32.81 11h1.13v1.13h-1.13zM36.04 11h1.13v1.13h-1.13zM41.42 11h1.13v1.13h-1.13zM42.5 11h1.13v1.13h-1.13zM44.65 11h1.13v1.13h-1.13zM24.2 12.07h1.13v1.13h-1.13zM26.35 12.07h1.13v1.13h-1.13zM27.43 12.07h1.13v1.13h-1.13zM28.5 12.07h1.13v1.13h-1.13zM30.66 12.07h1.13v1.13h-1.13zM33.89 12.07h1.13v1.13h-1.13zM34.96 12.07h1.13v1.13h-1.13zM38.19 12.07h1.13v1.13h-1.13zM39.27 12.07h1.13v1.13h-1.13zM40.34 12.07h1.13v1.13h-1.13zM43.57 12.07h1.13v1.13h-1.13zM24.2 13.15h1.13v1.13h-1.13zM30.66 13.15h1.13v1.13h-1.13zM33.89 13.15h1.13v1.13h-1.13zM36.04 13.15h1.13v1.13h-1.13zM37.11 13.15h1.13v1.13h-1.13zM42.5 13.15h1.13v1.13h-1.13zM45.72 13.15h1.13v1.13h-1.13zM24.2 14.22h1.13v1.13h-1.13zM25.28 14.22h1.13v1.13h-1.13zM26.35 14.22h1.13v1.13h-1.13zM27.43 14.22h1.13v1.13h-1.13zM28.5 14.22h1.13v1.13h-1.13zM29.58 14.22h1.13v1.13h-1.13zM30.66 14.22h1.13v1.13h-1.13zM32.81 14.22h1.13v1.13h-1.13zM33.89 14.22h1.13v1.13h-1.13zM34.96 14.22h1.13v1.13h-1.13zM37.11 14.22h1.13v1.13h-1.13zM38.19 14.22h1.13v1.13h-1.13zM39.27 14.22h1.13v1.13h-1.13zM41.42 14.22h1.13v1.13h-1.13zM42.5 14.22h1.13v1.13h-1.13zM45.72 14.22h1.13v1.13h-1.13z" fill="#0a0a0a" stroke="none"/>
</g>
</g>
</svg>
</body></html>
